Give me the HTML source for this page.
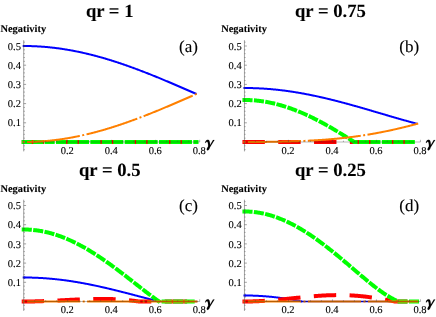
<!DOCTYPE html><html><head><meta charset="utf-8"><style>html,body{margin:0;padding:0;background:#fff}svg{display:block;filter:blur(0.4px)}text{font-family:"Liberation Serif",serif;fill:#000}</style></head><body>
<svg width="436" height="317" viewBox="0 0 436 317">
<defs><filter id="nf" x="0" y="0" width="436" height="317" filterUnits="userSpaceOnUse"><feOffset dx="0" dy="0"/></filter></defs>
<rect width="436" height="317" fill="#fff"/>
<g fill="none" stroke-linecap="square" stroke-linejoin="round">
<path d="M23.70 46.00 L24.28 46.00 L24.86 46.00 L25.43 46.01 L26.01 46.01 L26.59 46.02 L27.17 46.02 L27.75 46.03 L28.32 46.04 L28.90 46.05 L29.48 46.07 L30.06 46.08 L30.63 46.10 L31.21 46.11 L31.79 46.13 L32.37 46.15 L32.95 46.17 L33.52 46.19 L34.10 46.21 L34.68 46.24 L35.26 46.26 L35.84 46.29 L36.41 46.32 L36.99 46.35 L37.57 46.38 L38.15 46.41 L38.73 46.45 L39.30 46.48 L39.88 46.52 L40.46 46.56 L41.04 46.59 L41.61 46.64 L42.19 46.68 L42.77 46.72 L43.35 46.76 L43.93 46.81 L44.50 46.86 L45.08 46.90 L45.66 46.95 L46.24 47.00 L46.82 47.06 L47.39 47.11 L47.97 47.16 L48.55 47.22 L49.13 47.28 L49.70 47.34 L50.28 47.39 L50.86 47.46 L51.44 47.52 L52.02 47.58 L52.59 47.65 L53.17 47.71 L53.75 47.78 L54.33 47.85 L54.91 47.92 L55.48 47.99 L56.06 48.06 L56.64 48.14 L57.22 48.21 L57.80 48.29 L58.37 48.36 L58.95 48.44 L59.53 48.52 L60.11 48.61 L60.68 48.69 L61.26 48.77 L61.84 48.86 L62.42 48.94 L63.00 49.03 L63.57 49.12 L64.15 49.21 L64.73 49.30 L65.31 49.39 L65.89 49.49 L66.46 49.58 L67.04 49.68 L67.62 49.78 L68.20 49.87 L68.78 49.97 L69.35 50.07 L69.93 50.18 L70.51 50.28 L71.09 50.39 L71.66 50.49 L72.24 50.60 L72.82 50.71 L73.40 50.82 L73.98 50.93 L74.55 51.04 L75.13 51.15 L75.71 51.27 L76.29 51.38 L76.87 51.50 L77.44 51.62 L78.02 51.73 L78.60 51.85 L79.18 51.98 L79.75 52.10 L80.33 52.22 L80.91 52.35 L81.49 52.47 L82.07 52.60 L82.64 52.73 L83.22 52.86 L83.80 52.99 L84.38 53.12 L84.96 53.25 L85.53 53.39 L86.11 53.52 L86.69 53.66 L87.27 53.79 L87.85 53.93 L88.42 54.07 L89.00 54.21 L89.58 54.35 L90.16 54.50 L90.73 54.64 L91.31 54.79 L91.89 54.93 L92.47 55.08 L93.05 55.23 L93.62 55.38 L94.20 55.53 L94.78 55.68 L95.36 55.83 L95.94 55.98 L96.51 56.14 L97.09 56.29 L97.67 56.45 L98.25 56.61 L98.83 56.77 L99.40 56.93 L99.98 57.09 L100.56 57.25 L101.14 57.41 L101.71 57.57 L102.29 57.74 L102.87 57.90 L103.45 58.07 L104.03 58.24 L104.60 58.41 L105.18 58.58 L105.76 58.75 L106.34 58.92 L106.92 59.09 L107.49 59.27 L108.07 59.44 L108.65 59.62 L109.23 59.79 L109.80 59.97 L110.38 60.15 L110.96 60.33 L111.54 60.51 L112.12 60.69 L112.69 60.87 L113.27 61.05 L113.85 61.24 L114.43 61.42 L115.01 61.61 L115.58 61.79 L116.16 61.98 L116.74 62.17 L117.32 62.36 L117.90 62.55 L118.47 62.74 L119.05 62.93 L119.63 63.12 L120.21 63.32 L120.78 63.51 L121.36 63.71 L121.94 63.90 L122.52 64.10 L123.10 64.30 L123.67 64.50 L124.25 64.70 L124.83 64.90 L125.41 65.10 L125.99 65.30 L126.56 65.50 L127.14 65.70 L127.72 65.91 L128.30 66.11 L128.88 66.32 L129.45 66.53 L130.03 66.73 L130.61 66.94 L131.19 67.15 L131.76 67.36 L132.34 67.57 L132.92 67.78 L133.50 67.99 L134.08 68.20 L134.65 68.42 L135.23 68.63 L135.81 68.84 L136.39 69.06 L136.97 69.28 L137.54 69.49 L138.12 69.71 L138.70 69.93 L139.28 70.15 L139.85 70.36 L140.43 70.58 L141.01 70.81 L141.59 71.03 L142.17 71.25 L142.74 71.47 L143.32 71.69 L143.90 71.92 L144.48 72.14 L145.06 72.37 L145.63 72.59 L146.21 72.82 L146.79 73.04 L147.37 73.27 L147.95 73.50 L148.52 73.73 L149.10 73.96 L149.68 74.19 L150.26 74.42 L150.83 74.65 L151.41 74.88 L151.99 75.11 L152.57 75.34 L153.15 75.57 L153.72 75.81 L154.30 76.04 L154.88 76.27 L155.46 76.51 L156.04 76.74 L156.61 76.98 L157.19 77.21 L157.77 77.45 L158.35 77.69 L158.93 77.93 L159.50 78.16 L160.08 78.40 L160.66 78.64 L161.24 78.88 L161.81 79.12 L162.39 79.36 L162.97 79.60 L163.55 79.84 L164.13 80.08 L164.70 80.32 L165.28 80.56 L165.86 80.81 L166.44 81.05 L167.02 81.29 L167.59 81.54 L168.17 81.78 L168.75 82.02 L169.33 82.27 L169.90 82.51 L170.48 82.76 L171.06 83.00 L171.64 83.25 L172.22 83.49 L172.79 83.74 L173.37 83.99 L173.95 84.23 L174.53 84.48 L175.11 84.73 L175.68 84.98 L176.26 85.22 L176.84 85.47 L177.42 85.72 L178.00 85.97 L178.57 86.22 L179.15 86.47 L179.73 86.72 L180.31 86.96 L180.88 87.21 L181.46 87.46 L182.04 87.71 L182.62 87.96 L183.20 88.21 L183.77 88.46 L184.35 88.72 L184.93 88.97 L185.51 89.22 L186.09 89.47 L186.66 89.72 L187.24 89.97 L187.82 90.22 L188.40 90.47 L188.98 90.72 L189.55 90.98 L190.13 91.23 L190.71 91.48 L191.29 91.73 L191.86 91.98 L192.44 92.24 L193.02 92.49 L193.60 92.74 L194.18 92.99 L194.75 93.24 L195.33 93.50 L195.91 93.75 L196.49 94.00" stroke="#0000ff" stroke-width="2" stroke-linecap="butt"/>
<path d="M23.70 46.00 L24.28 46.00" stroke="#0000ff" stroke-width="2"/>
<path d="M23.70 142.00 L24.28 142.00 L24.86 142.00 L25.43 142.00 L26.01 142.00 L26.59 142.00 L27.17 142.00 L27.75 142.00 L28.32 142.00 L28.90 142.00 L29.48 142.00 L30.06 142.00 L30.63 142.00 L31.21 142.00 L31.79 142.00 L32.37 142.00 L32.95 142.00 L33.52 142.00 L34.10 142.00 L34.68 142.00 L35.26 142.00 L35.84 142.00 L36.41 142.00 L36.99 142.00 L37.57 142.00 L38.15 142.00 L38.73 142.00 L39.30 142.00 L39.88 142.00 L40.46 142.00 L41.04 142.00 L41.61 142.00 L42.19 142.00 L42.77 142.00 L43.35 142.00 L43.93 142.00 L44.50 142.00 L45.08 142.00 L45.66 142.00 L46.24 142.00 L46.82 142.00 L47.39 142.00 L47.97 142.00 L48.55 142.00 L49.13 142.00 L49.70 142.00 L50.28 142.00 L50.86 142.00 L51.44 142.00 L52.02 142.00 L52.59 142.00 L53.17 142.00 L53.75 142.00 L54.33 142.00 L54.91 142.00 L55.48 142.00 L56.06 142.00 L56.64 142.00 L57.22 142.00 L57.80 142.00 L58.37 142.00 L58.95 142.00 L59.53 142.00 L60.11 142.00 L60.68 142.00 L61.26 142.00 L61.84 142.00 L62.42 142.00 L63.00 142.00 L63.57 142.00 L64.15 142.00 L64.73 142.00 L65.31 142.00 L65.89 142.00 L66.46 142.00 L67.04 142.00 L67.62 142.00 L68.20 142.00 L68.78 142.00 L69.35 142.00 L69.93 142.00 L70.51 142.00 L71.09 142.00 L71.66 142.00 L72.24 142.00 L72.82 142.00 L73.40 142.00 L73.98 142.00 L74.55 142.00 L75.13 142.00 L75.71 142.00 L76.29 142.00 L76.87 142.00 L77.44 142.00 L78.02 142.00 L78.60 142.00 L79.18 142.00 L79.75 142.00 L80.33 142.00 L80.91 142.00 L81.49 142.00 L82.07 142.00 L82.64 142.00 L83.22 142.00 L83.80 142.00 L84.38 142.00 L84.96 142.00 L85.53 142.00 L86.11 142.00 L86.69 142.00 L87.27 142.00 L87.85 142.00 L88.42 142.00 L89.00 142.00 L89.58 142.00 L90.16 142.00 L90.73 142.00 L91.31 142.00 L91.89 142.00 L92.47 142.00 L93.05 142.00 L93.62 142.00 L94.20 142.00 L94.78 142.00 L95.36 142.00 L95.94 142.00 L96.51 142.00 L97.09 142.00 L97.67 142.00 L98.25 142.00 L98.83 142.00 L99.40 142.00 L99.98 142.00 L100.56 142.00 L101.14 142.00 L101.71 142.00 L102.29 142.00 L102.87 142.00 L103.45 142.00 L104.03 142.00 L104.60 142.00 L105.18 142.00 L105.76 142.00 L106.34 142.00 L106.92 142.00 L107.49 142.00 L108.07 142.00 L108.65 142.00 L109.23 142.00 L109.80 142.00 L110.38 142.00 L110.96 142.00 L111.54 142.00 L112.12 142.00 L112.69 142.00 L113.27 142.00 L113.85 142.00 L114.43 142.00 L115.01 142.00 L115.58 142.00 L116.16 142.00 L116.74 142.00 L117.32 142.00 L117.90 142.00 L118.47 142.00 L119.05 142.00 L119.63 142.00 L120.21 142.00 L120.78 142.00 L121.36 142.00 L121.94 142.00 L122.52 142.00 L123.10 142.00 L123.67 142.00 L124.25 142.00 L124.83 142.00 L125.41 142.00 L125.99 142.00 L126.56 142.00 L127.14 142.00 L127.72 142.00 L128.30 142.00 L128.88 142.00 L129.45 142.00 L130.03 142.00 L130.61 142.00 L131.19 142.00 L131.76 142.00 L132.34 142.00 L132.92 142.00 L133.50 142.00 L134.08 142.00 L134.65 142.00 L135.23 142.00 L135.81 142.00 L136.39 142.00 L136.97 142.00 L137.54 142.00 L138.12 142.00 L138.70 142.00 L139.28 142.00 L139.85 142.00 L140.43 142.00 L141.01 142.00 L141.59 142.00 L142.17 142.00 L142.74 142.00 L143.32 142.00 L143.90 142.00 L144.48 142.00 L145.06 142.00 L145.63 142.00 L146.21 142.00 L146.79 142.00 L147.37 142.00 L147.95 142.00 L148.52 142.00 L149.10 142.00 L149.68 142.00 L150.26 142.00 L150.83 142.00 L151.41 142.00 L151.99 142.00 L152.57 142.00 L153.15 142.00 L153.72 142.00 L154.30 142.00 L154.88 142.00 L155.46 142.00 L156.04 142.00 L156.61 142.00 L157.19 142.00 L157.77 142.00 L158.35 142.00 L158.93 142.00 L159.50 142.00 L160.08 142.00 L160.66 142.00 L161.24 142.00 L161.81 142.00 L162.39 142.00 L162.97 142.00 L163.55 142.00 L164.13 142.00 L164.70 142.00 L165.28 142.00 L165.86 142.00 L166.44 142.00 L167.02 142.00 L167.59 142.00 L168.17 142.00 L168.75 142.00 L169.33 142.00 L169.90 142.00 L170.48 142.00 L171.06 142.00 L171.64 142.00 L172.22 142.00 L172.79 142.00 L173.37 142.00 L173.95 142.00 L174.53 142.00 L175.11 142.00 L175.68 142.00 L176.26 142.00 L176.84 142.00 L177.42 142.00 L178.00 142.00 L178.57 142.00 L179.15 142.00 L179.73 142.00 L180.31 142.00 L180.88 142.00 L181.46 142.00 L182.04 142.00 L182.62 142.00 L183.20 142.00 L183.77 142.00 L184.35 142.00 L184.93 142.00 L185.51 142.00 L186.09 142.00 L186.66 142.00 L187.24 142.00 L187.82 142.00 L188.40 142.00 L188.98 142.00 L189.55 142.00 L190.13 142.00 L190.71 142.00 L191.29 142.00 L191.86 142.00 L192.44 142.00 L193.02 142.00 L193.60 142.00 L194.18 142.00 L194.75 142.00 L195.33 142.00 L195.91 142.00 L196.49 142.00" stroke="#ff0000" stroke-width="4" stroke-dasharray="18.4 17.4"/>
<path d="M23.70 142.00 L24.28 142.00 L24.86 142.00 L25.43 142.00 L26.01 142.00 L26.59 142.00 L27.17 142.00 L27.75 142.00 L28.32 142.00 L28.90 142.00 L29.48 142.00 L30.06 142.00 L30.63 142.00 L31.21 142.00 L31.79 142.00 L32.37 142.00 L32.95 142.00 L33.52 142.00 L34.10 142.00 L34.68 142.00 L35.26 142.00 L35.84 142.00 L36.41 142.00 L36.99 142.00 L37.57 142.00 L38.15 142.00 L38.73 142.00 L39.30 142.00 L39.88 142.00 L40.46 142.00 L41.04 142.00 L41.61 142.00 L42.19 142.00 L42.77 142.00 L43.35 142.00 L43.93 142.00 L44.50 142.00 L45.08 142.00 L45.66 142.00 L46.24 142.00 L46.82 142.00 L47.39 142.00 L47.97 142.00 L48.55 142.00 L49.13 142.00 L49.70 142.00 L50.28 142.00 L50.86 142.00 L51.44 142.00 L52.02 142.00 L52.59 142.00 L53.17 142.00 L53.75 142.00 L54.33 142.00 L54.91 142.00 L55.48 142.00 L56.06 142.00 L56.64 142.00 L57.22 142.00 L57.80 142.00 L58.37 142.00 L58.95 142.00 L59.53 142.00 L60.11 142.00 L60.68 142.00 L61.26 142.00 L61.84 142.00 L62.42 142.00 L63.00 142.00 L63.57 142.00 L64.15 142.00 L64.73 142.00 L65.31 142.00 L65.89 142.00 L66.46 142.00 L67.04 142.00 L67.62 142.00 L68.20 142.00 L68.78 142.00 L69.35 142.00 L69.93 142.00 L70.51 142.00 L71.09 142.00 L71.66 142.00 L72.24 142.00 L72.82 142.00 L73.40 142.00 L73.98 142.00 L74.55 142.00 L75.13 142.00 L75.71 142.00 L76.29 142.00 L76.87 142.00 L77.44 142.00 L78.02 142.00 L78.60 142.00 L79.18 142.00 L79.75 142.00 L80.33 142.00 L80.91 142.00 L81.49 142.00 L82.07 142.00 L82.64 142.00 L83.22 142.00 L83.80 142.00 L84.38 142.00 L84.96 142.00 L85.53 142.00 L86.11 142.00 L86.69 142.00 L87.27 142.00 L87.85 142.00 L88.42 142.00 L89.00 142.00 L89.58 142.00 L90.16 142.00 L90.73 142.00 L91.31 142.00 L91.89 142.00 L92.47 142.00 L93.05 142.00 L93.62 142.00 L94.20 142.00 L94.78 142.00 L95.36 142.00 L95.94 142.00 L96.51 142.00 L97.09 142.00 L97.67 142.00 L98.25 142.00 L98.83 142.00 L99.40 142.00 L99.98 142.00 L100.56 142.00 L101.14 142.00 L101.71 142.00 L102.29 142.00 L102.87 142.00 L103.45 142.00 L104.03 142.00 L104.60 142.00 L105.18 142.00 L105.76 142.00 L106.34 142.00 L106.92 142.00 L107.49 142.00 L108.07 142.00 L108.65 142.00 L109.23 142.00 L109.80 142.00 L110.38 142.00 L110.96 142.00 L111.54 142.00 L112.12 142.00 L112.69 142.00 L113.27 142.00 L113.85 142.00 L114.43 142.00 L115.01 142.00 L115.58 142.00 L116.16 142.00 L116.74 142.00 L117.32 142.00 L117.90 142.00 L118.47 142.00 L119.05 142.00 L119.63 142.00 L120.21 142.00 L120.78 142.00 L121.36 142.00 L121.94 142.00 L122.52 142.00 L123.10 142.00 L123.67 142.00 L124.25 142.00 L124.83 142.00 L125.41 142.00 L125.99 142.00 L126.56 142.00 L127.14 142.00 L127.72 142.00 L128.30 142.00 L128.88 142.00 L129.45 142.00 L130.03 142.00 L130.61 142.00 L131.19 142.00 L131.76 142.00 L132.34 142.00 L132.92 142.00 L133.50 142.00 L134.08 142.00 L134.65 142.00 L135.23 142.00 L135.81 142.00 L136.39 142.00 L136.97 142.00 L137.54 142.00 L138.12 142.00 L138.70 142.00 L139.28 142.00 L139.85 142.00 L140.43 142.00 L141.01 142.00 L141.59 142.00 L142.17 142.00 L142.74 142.00 L143.32 142.00 L143.90 142.00 L144.48 142.00 L145.06 142.00 L145.63 142.00 L146.21 142.00 L146.79 142.00 L147.37 142.00 L147.95 142.00 L148.52 142.00 L149.10 142.00 L149.68 142.00 L150.26 142.00 L150.83 142.00 L151.41 142.00 L151.99 142.00 L152.57 142.00 L153.15 142.00 L153.72 142.00 L154.30 142.00 L154.88 142.00 L155.46 142.00 L156.04 142.00 L156.61 142.00 L157.19 142.00 L157.77 142.00 L158.35 142.00 L158.93 142.00 L159.50 142.00 L160.08 142.00 L160.66 142.00 L161.24 142.00 L161.81 142.00 L162.39 142.00 L162.97 142.00 L163.55 142.00 L164.13 142.00 L164.70 142.00 L165.28 142.00 L165.86 142.00 L166.44 142.00 L167.02 142.00 L167.59 142.00 L168.17 142.00 L168.75 142.00 L169.33 142.00 L169.90 142.00 L170.48 142.00 L171.06 142.00 L171.64 142.00 L172.22 142.00 L172.79 142.00 L173.37 142.00 L173.95 142.00 L174.53 142.00 L175.11 142.00 L175.68 142.00 L176.26 142.00 L176.84 142.00 L177.42 142.00 L178.00 142.00 L178.57 142.00 L179.15 142.00 L179.73 142.00 L180.31 142.00 L180.88 142.00 L181.46 142.00 L182.04 142.00 L182.62 142.00 L183.20 142.00 L183.77 142.00 L184.35 142.00 L184.93 142.00 L185.51 142.00 L186.09 142.00 L186.66 142.00 L187.24 142.00 L187.82 142.00 L188.40 142.00 L188.98 142.00 L189.55 142.00 L190.13 142.00 L190.71 142.00 L191.29 142.00 L191.86 142.00 L192.44 142.00 L193.02 142.00 L193.60 142.00 L194.18 142.00 L194.75 142.00 L195.33 142.00 L195.91 142.00 L196.49 142.00" stroke="#00ff00" stroke-width="4" stroke-dasharray="6.115 5.325"/>
<path d="M23.70 142.00 L24.28 142.00 L24.86 142.00 L25.43 141.99 L26.01 141.99 L26.59 141.98 L27.17 141.98 L27.75 141.97 L28.32 141.96 L28.90 141.95 L29.48 141.93 L30.06 141.92 L30.63 141.90 L31.21 141.89 L31.79 141.87 L32.37 141.85 L32.95 141.83 L33.52 141.81 L34.10 141.79 L34.68 141.76 L35.26 141.74 L35.84 141.71 L36.41 141.68 L36.99 141.65 L37.57 141.62 L38.15 141.59 L38.73 141.55 L39.30 141.52 L39.88 141.48 L40.46 141.44 L41.04 141.41 L41.61 141.36 L42.19 141.32 L42.77 141.28 L43.35 141.24 L43.93 141.19 L44.50 141.14 L45.08 141.10 L45.66 141.05 L46.24 141.00 L46.82 140.94 L47.39 140.89 L47.97 140.84 L48.55 140.78 L49.13 140.72 L49.70 140.66 L50.28 140.61 L50.86 140.54 L51.44 140.48 L52.02 140.42 L52.59 140.35 L53.17 140.29 L53.75 140.22 L54.33 140.15 L54.91 140.08 L55.48 140.01 L56.06 139.94 L56.64 139.86 L57.22 139.79 L57.80 139.71 L58.37 139.64 L58.95 139.56 L59.53 139.48 L60.11 139.39 L60.68 139.31 L61.26 139.23 L61.84 139.14 L62.42 139.06 L63.00 138.97 L63.57 138.88 L64.15 138.79 L64.73 138.70 L65.31 138.61 L65.89 138.51 L66.46 138.42 L67.04 138.32 L67.62 138.22 L68.20 138.13 L68.78 138.03 L69.35 137.93 L69.93 137.82 L70.51 137.72 L71.09 137.61 L71.66 137.51 L72.24 137.40 L72.82 137.29 L73.40 137.18 L73.98 137.07 L74.55 136.96 L75.13 136.85 L75.71 136.73 L76.29 136.62 L76.87 136.50 L77.44 136.38 L78.02 136.27 L78.60 136.15 L79.18 136.02 L79.75 135.90 L80.33 135.78 L80.91 135.65 L81.49 135.53 L82.07 135.40 L82.64 135.27 L83.22 135.14 L83.80 135.01 L84.38 134.88 L84.96 134.75 L85.53 134.61 L86.11 134.48 L86.69 134.34 L87.27 134.21 L87.85 134.07 L88.42 133.93 L89.00 133.79 L89.58 133.65 L90.16 133.50 L90.73 133.36 L91.31 133.21 L91.89 133.07 L92.47 132.92 L93.05 132.77 L93.62 132.62 L94.20 132.47 L94.78 132.32 L95.36 132.17 L95.94 132.02 L96.51 131.86 L97.09 131.71 L97.67 131.55 L98.25 131.39 L98.83 131.23 L99.40 131.07 L99.98 130.91 L100.56 130.75 L101.14 130.59 L101.71 130.43 L102.29 130.26 L102.87 130.10 L103.45 129.93 L104.03 129.76 L104.60 129.59 L105.18 129.42 L105.76 129.25 L106.34 129.08 L106.92 128.91 L107.49 128.73 L108.07 128.56 L108.65 128.38 L109.23 128.21 L109.80 128.03 L110.38 127.85 L110.96 127.67 L111.54 127.49 L112.12 127.31 L112.69 127.13 L113.27 126.95 L113.85 126.76 L114.43 126.58 L115.01 126.39 L115.58 126.21 L116.16 126.02 L116.74 125.83 L117.32 125.64 L117.90 125.45 L118.47 125.26 L119.05 125.07 L119.63 124.88 L120.21 124.68 L120.78 124.49 L121.36 124.29 L121.94 124.10 L122.52 123.90 L123.10 123.70 L123.67 123.50 L124.25 123.30 L124.83 123.10 L125.41 122.90 L125.99 122.70 L126.56 122.50 L127.14 122.30 L127.72 122.09 L128.30 121.89 L128.88 121.68 L129.45 121.47 L130.03 121.27 L130.61 121.06 L131.19 120.85 L131.76 120.64 L132.34 120.43 L132.92 120.22 L133.50 120.01 L134.08 119.80 L134.65 119.58 L135.23 119.37 L135.81 119.16 L136.39 118.94 L136.97 118.72 L137.54 118.51 L138.12 118.29 L138.70 118.07 L139.28 117.85 L139.85 117.64 L140.43 117.42 L141.01 117.19 L141.59 116.97 L142.17 116.75 L142.74 116.53 L143.32 116.31 L143.90 116.08 L144.48 115.86 L145.06 115.63 L145.63 115.41 L146.21 115.18 L146.79 114.96 L147.37 114.73 L147.95 114.50 L148.52 114.27 L149.10 114.04 L149.68 113.81 L150.26 113.58 L150.83 113.35 L151.41 113.12 L151.99 112.89 L152.57 112.66 L153.15 112.43 L153.72 112.19 L154.30 111.96 L154.88 111.73 L155.46 111.49 L156.04 111.26 L156.61 111.02 L157.19 110.79 L157.77 110.55 L158.35 110.31 L158.93 110.07 L159.50 109.84 L160.08 109.60 L160.66 109.36 L161.24 109.12 L161.81 108.88 L162.39 108.64 L162.97 108.40 L163.55 108.16 L164.13 107.92 L164.70 107.68 L165.28 107.44 L165.86 107.19 L166.44 106.95 L167.02 106.71 L167.59 106.46 L168.17 106.22 L168.75 105.98 L169.33 105.73 L169.90 105.49 L170.48 105.24 L171.06 105.00 L171.64 104.75 L172.22 104.51 L172.79 104.26 L173.37 104.01 L173.95 103.77 L174.53 103.52 L175.11 103.27 L175.68 103.02 L176.26 102.78 L176.84 102.53 L177.42 102.28 L178.00 102.03 L178.57 101.78 L179.15 101.53 L179.73 101.28 L180.31 101.04 L180.88 100.79 L181.46 100.54 L182.04 100.29 L182.62 100.04 L183.20 99.79 L183.77 99.54 L184.35 99.28 L184.93 99.03 L185.51 98.78 L186.09 98.53 L186.66 98.28 L187.24 98.03 L187.82 97.78 L188.40 97.53 L188.98 97.28 L189.55 97.02 L190.13 96.77 L190.71 96.52 L191.29 96.27 L191.86 96.02 L192.44 95.76 L193.02 95.51 L193.60 95.26 L194.18 95.01 L194.75 94.76 L195.33 94.50 L195.91 94.25 L196.49 94.00" stroke="#ff8000" stroke-width="2" stroke-dasharray="0.01 4.4 51.19 4.4"/>
</g>
<g stroke="#444" stroke-width="0.5" fill="none">
<path d="M23.70 40.20V151.40"/>
<path d="M23.70 142.00H199.70" stroke="#000" stroke-width="0.5" opacity="0.55"/>
<path d="M23.70 149.68h1.1M23.70 145.84h1.1M23.70 138.16h1.1M23.70 134.32h1.1M23.70 130.48h1.1M23.70 126.64h1.1M23.70 122.80h2.4M23.70 118.96h1.1M23.70 115.12h1.1M23.70 111.28h1.1M23.70 107.44h1.1M23.70 103.60h2.4M23.70 99.76h1.1M23.70 95.92h1.1M23.70 92.08h1.1M23.70 88.24h1.1M23.70 84.40h2.4M23.70 80.56h1.1M23.70 76.72h1.1M23.70 72.88h1.1M23.70 69.04h1.1M23.70 65.20h2.4M23.70 61.36h1.1M23.70 57.52h1.1M23.70 53.68h1.1M23.70 49.84h1.1M23.70 46.00h2.4M23.70 42.16h1.1" stroke-width="0.5"/>
<path d="M34.70 142.00v-1.3M45.70 142.00v-1.3M56.70 142.00v-1.3M67.70 142.00v-2.2M78.70 142.00v-1.3M89.70 142.00v-1.3M100.70 142.00v-1.3M111.70 142.00v-2.2M122.70 142.00v-1.3M133.70 142.00v-1.3M144.70 142.00v-1.3M155.70 142.00v-2.2M166.70 142.00v-1.3M177.70 142.00v-1.3M188.70 142.00v-1.3M199.70 142.00v-2.2" stroke-width="0.5" opacity="0.8"/>
</g>
<g style="text-rendering:geometricPrecision" filter="url(#nf)" stroke="#000" stroke-width="0.12">
<text x="20.90" y="126.40" font-size="10.5" text-anchor="end">0.1</text>
<text x="20.90" y="107.20" font-size="10.5" text-anchor="end">0.2</text>
<text x="20.90" y="88.00" font-size="10.5" text-anchor="end">0.3</text>
<text x="20.90" y="68.80" font-size="10.5" text-anchor="end">0.4</text>
<text x="20.90" y="49.60" font-size="10.5" text-anchor="end">0.5</text>
<text x="67.30" y="153.60" font-size="10.5" text-anchor="middle">0.2</text>
<text x="111.30" y="153.60" font-size="10.5" text-anchor="middle">0.4</text>
<text x="155.30" y="153.60" font-size="10.5" text-anchor="middle">0.6</text>
<text x="199.30" y="153.60" font-size="10.5" text-anchor="middle">0.8</text>
<text x="0.50" y="32.35" font-size="10.4" font-weight="bold">Negativity</text>
<text x="109.70" y="16.80" font-size="18.65" font-weight="bold" text-anchor="middle">qr = 1</text>
<text x="188.45" y="51.70" font-size="17" text-anchor="middle">(a)</text>
<path transform="translate(0.00 0.00)" fill="#000" d="M205.1 142.8C205.4 141 206.5 139.8 207.9 139.8C209.4 139.8 209.9 141.2 210.1 145L213 139.9L214.5 139.9L210 147.2C209.6 148.4 209 150.4 207.6 150.4C206.5 150.4 206.5 149 207.3 147.8L208.2 146.3C208.1 143.5 207.8 141.8 207 141.8C206.4 141.8 205.9 142.4 205.7 143.1Z"/>
</g>
<g fill="none" stroke-linecap="square" stroke-linejoin="round">
<path d="M244.45 88.00 L245.03 88.00 L245.61 88.00 L246.18 88.01 L246.76 88.01 L247.34 88.01 L247.92 88.02 L248.50 88.03 L249.07 88.04 L249.65 88.05 L250.23 88.06 L250.81 88.07 L251.38 88.08 L251.96 88.09 L252.54 88.11 L253.12 88.13 L253.70 88.14 L254.27 88.16 L254.85 88.18 L255.43 88.20 L256.01 88.22 L256.59 88.25 L257.16 88.27 L257.74 88.29 L258.32 88.32 L258.90 88.35 L259.48 88.38 L260.05 88.41 L260.63 88.44 L261.21 88.47 L261.79 88.50 L262.36 88.53 L262.94 88.57 L263.52 88.61 L264.10 88.64 L264.68 88.68 L265.25 88.72 L265.83 88.76 L266.41 88.80 L266.99 88.84 L267.57 88.89 L268.14 88.93 L268.72 88.98 L269.30 89.03 L269.88 89.07 L270.45 89.12 L271.03 89.17 L271.61 89.22 L272.19 89.28 L272.77 89.33 L273.34 89.38 L273.92 89.44 L274.50 89.50 L275.08 89.55 L275.66 89.61 L276.23 89.67 L276.81 89.73 L277.39 89.79 L277.97 89.86 L278.55 89.92 L279.12 89.98 L279.70 90.05 L280.28 90.12 L280.86 90.19 L281.43 90.25 L282.01 90.32 L282.59 90.40 L283.17 90.47 L283.75 90.54 L284.32 90.61 L284.90 90.69 L285.48 90.77 L286.06 90.84 L286.64 90.92 L287.21 91.00 L287.79 91.08 L288.37 91.16 L288.95 91.24 L289.53 91.33 L290.10 91.41 L290.68 91.50 L291.26 91.58 L291.84 91.67 L292.41 91.76 L292.99 91.84 L293.57 91.93 L294.15 92.03 L294.73 92.12 L295.30 92.21 L295.88 92.30 L296.46 92.40 L297.04 92.49 L297.62 92.59 L298.19 92.69 L298.77 92.79 L299.35 92.88 L299.93 92.98 L300.50 93.09 L301.08 93.19 L301.66 93.29 L302.24 93.39 L302.82 93.50 L303.39 93.60 L303.97 93.71 L304.55 93.82 L305.13 93.93 L305.71 94.04 L306.28 94.15 L306.86 94.26 L307.44 94.37 L308.02 94.48 L308.60 94.59 L309.17 94.71 L309.75 94.82 L310.33 94.94 L310.91 95.05 L311.48 95.17 L312.06 95.29 L312.64 95.41 L313.22 95.53 L313.80 95.65 L314.37 95.77 L314.95 95.89 L315.53 96.02 L316.11 96.14 L316.69 96.27 L317.26 96.39 L317.84 96.52 L318.42 96.64 L319.00 96.77 L319.58 96.90 L320.15 97.03 L320.73 97.16 L321.31 97.29 L321.89 97.42 L322.46 97.55 L323.04 97.69 L323.62 97.82 L324.20 97.96 L324.78 98.09 L325.35 98.23 L325.93 98.36 L326.51 98.50 L327.09 98.64 L327.67 98.78 L328.24 98.91 L328.82 99.05 L329.40 99.19 L329.98 99.34 L330.55 99.48 L331.13 99.62 L331.71 99.76 L332.29 99.91 L332.87 100.05 L333.44 100.19 L334.02 100.34 L334.60 100.49 L335.18 100.63 L335.76 100.78 L336.33 100.93 L336.91 101.08 L337.49 101.22 L338.07 101.37 L338.65 101.52 L339.22 101.67 L339.80 101.83 L340.38 101.98 L340.96 102.13 L341.53 102.28 L342.11 102.43 L342.69 102.59 L343.27 102.74 L343.85 102.90 L344.42 103.05 L345.00 103.21 L345.58 103.36 L346.16 103.52 L346.74 103.68 L347.31 103.83 L347.89 103.99 L348.47 104.15 L349.05 104.31 L349.63 104.47 L350.20 104.63 L350.78 104.79 L351.36 104.95 L351.94 105.11 L352.51 105.27 L353.09 105.43 L353.67 105.59 L354.25 105.75 L354.83 105.92 L355.40 106.08 L355.98 106.24 L356.56 106.41 L357.14 106.57 L357.72 106.73 L358.29 106.90 L358.87 107.06 L359.45 107.23 L360.03 107.39 L360.60 107.56 L361.18 107.73 L361.76 107.89 L362.34 108.06 L362.92 108.22 L363.49 108.39 L364.07 108.56 L364.65 108.73 L365.23 108.89 L365.81 109.06 L366.38 109.23 L366.96 109.40 L367.54 109.56 L368.12 109.73 L368.70 109.90 L369.27 110.07 L369.85 110.24 L370.43 110.41 L371.01 110.58 L371.58 110.75 L372.16 110.92 L372.74 111.09 L373.32 111.26 L373.90 111.42 L374.47 111.59 L375.05 111.76 L375.63 111.93 L376.21 112.10 L376.79 112.27 L377.36 112.44 L377.94 112.61 L378.52 112.78 L379.10 112.95 L379.68 113.13 L380.25 113.30 L380.83 113.47 L381.41 113.64 L381.99 113.81 L382.56 113.98 L383.14 114.15 L383.72 114.32 L384.30 114.49 L384.88 114.66 L385.45 114.83 L386.03 115.00 L386.61 115.17 L387.19 115.33 L387.77 115.50 L388.34 115.67 L388.92 115.84 L389.50 116.01 L390.08 116.18 L390.65 116.35 L391.23 116.52 L391.81 116.69 L392.39 116.86 L392.97 117.02 L393.54 117.19 L394.12 117.36 L394.70 117.53 L395.28 117.69 L395.86 117.86 L396.43 118.03 L397.01 118.20 L397.59 118.36 L398.17 118.53 L398.75 118.69 L399.32 118.86 L399.90 119.03 L400.48 119.19 L401.06 119.36 L401.63 119.52 L402.21 119.69 L402.79 119.85 L403.37 120.01 L403.95 120.18 L404.52 120.34 L405.10 120.50 L405.68 120.66 L406.26 120.83 L406.84 120.99 L407.41 121.15 L407.99 121.31 L408.57 121.47 L409.15 121.63 L409.73 121.79 L410.30 121.95 L410.88 122.11 L411.46 122.27 L412.04 122.43 L412.61 122.58 L413.19 122.74 L413.77 122.90 L414.35 123.05 L414.93 123.21 L415.50 123.37 L416.08 123.52 L416.66 123.67 L417.24 123.83" stroke="#0000ff" stroke-width="2" stroke-linecap="butt"/>
<path d="M244.45 88.00 L245.03 88.00" stroke="#0000ff" stroke-width="2"/>
<path d="M244.45 142.00 L245.03 142.00 L245.61 142.00 L246.18 142.00 L246.76 142.00 L247.34 142.00 L247.92 142.00 L248.50 142.00 L249.07 142.00 L249.65 142.00 L250.23 142.00 L250.81 142.00 L251.38 142.00 L251.96 142.00 L252.54 142.00 L253.12 142.00 L253.70 142.00 L254.27 142.00 L254.85 142.00 L255.43 142.00 L256.01 142.00 L256.59 142.00 L257.16 142.00 L257.74 142.00 L258.32 142.00 L258.90 142.00 L259.48 142.00 L260.05 142.00 L260.63 142.00 L261.21 142.00 L261.79 142.00 L262.36 142.00 L262.94 142.00 L263.52 142.00 L264.10 142.00 L264.68 142.00 L265.25 142.00 L265.83 142.00 L266.41 142.00 L266.99 142.00 L267.57 142.00 L268.14 142.00 L268.72 142.00 L269.30 142.00 L269.88 142.00 L270.45 142.00 L271.03 142.00 L271.61 142.00 L272.19 142.00 L272.77 142.00 L273.34 142.00 L273.92 142.00 L274.50 142.00 L275.08 142.00 L275.66 142.00 L276.23 142.00 L276.81 142.00 L277.39 142.00 L277.97 142.00 L278.55 142.00 L279.12 142.00 L279.70 142.00 L280.28 142.00 L280.86 142.00 L281.43 142.00 L282.01 142.00 L282.59 142.00 L283.17 142.00 L283.75 142.00 L284.32 142.00 L284.90 142.00 L285.48 142.00 L286.06 142.00 L286.64 142.00 L287.21 142.00 L287.79 142.00 L288.37 142.00 L288.95 142.00 L289.53 142.00 L290.10 142.00 L290.68 142.00 L291.26 142.00 L291.84 142.00 L292.41 142.00 L292.99 142.00 L293.57 142.00 L294.15 142.00 L294.73 142.00 L295.30 142.00 L295.88 142.00 L296.46 142.00 L297.04 142.00 L297.62 142.00 L298.19 142.00 L298.77 142.00 L299.35 142.00 L299.93 142.00 L300.50 142.00 L301.08 142.00 L301.66 142.00 L302.24 142.00 L302.82 142.00 L303.39 142.00 L303.97 142.00 L304.55 142.00 L305.13 142.00 L305.71 142.00 L306.28 142.00 L306.86 142.00 L307.44 142.00 L308.02 142.00 L308.60 142.00 L309.17 142.00 L309.75 142.00 L310.33 142.00 L310.91 142.00 L311.48 142.00 L312.06 142.00 L312.64 142.00 L313.22 142.00 L313.80 142.00 L314.37 142.00 L314.95 142.00 L315.53 142.00 L316.11 142.00 L316.69 142.00 L317.26 142.00 L317.84 142.00 L318.42 142.00 L319.00 142.00 L319.58 142.00 L320.15 142.00 L320.73 142.00 L321.31 142.00 L321.89 142.00 L322.46 142.00 L323.04 142.00 L323.62 142.00 L324.20 142.00 L324.78 142.00 L325.35 142.00 L325.93 142.00 L326.51 142.00 L327.09 142.00 L327.67 142.00 L328.24 142.00 L328.82 142.00 L329.40 142.00 L329.98 142.00 L330.55 142.00 L331.13 142.00 L331.71 142.00 L332.29 142.00 L332.87 142.00 L333.44 142.00 L334.02 142.00 L334.60 142.00 L335.18 142.00 L335.76 142.00 L336.33 142.00 L336.91 142.00 L337.49 142.00 L338.07 142.00 L338.65 142.00 L339.22 142.00 L339.80 142.00 L340.38 142.00 L340.96 142.00 L341.53 142.00 L342.11 142.00 L342.69 142.00 L343.27 142.00 L343.85 142.00 L344.42 142.00 L345.00 142.00 L345.58 142.00 L346.16 142.00 L346.74 142.00 L347.31 142.00 L347.89 142.00 L348.47 142.00 L349.05 142.00 L349.63 142.00 L350.20 142.00 L350.78 142.00 L351.36 142.00 L351.94 142.00 L352.51 142.00 L353.09 142.00 L353.67 142.00 L354.25 142.00 L354.83 142.00 L355.40 142.00 L355.98 142.00 L356.56 142.00 L357.14 142.00 L357.72 142.00 L358.29 142.00 L358.87 142.00 L359.45 142.00 L360.03 142.00 L360.60 142.00 L361.18 142.00 L361.76 142.00 L362.34 142.00 L362.92 142.00 L363.49 142.00 L364.07 142.00 L364.65 142.00 L365.23 142.00 L365.81 142.00 L366.38 142.00 L366.96 142.00 L367.54 142.00 L368.12 142.00 L368.70 142.00 L369.27 142.00 L369.85 142.00 L370.43 142.00 L371.01 142.00 L371.58 142.00 L372.16 142.00 L372.74 142.00 L373.32 142.00 L373.90 142.00 L374.47 142.00 L375.05 142.00 L375.63 142.00 L376.21 142.00 L376.79 142.00 L377.36 142.00 L377.94 142.00 L378.52 142.00 L379.10 142.00 L379.68 142.00 L380.25 142.00 L380.83 142.00 L381.41 142.00 L381.99 142.00 L382.56 142.00 L383.14 142.00 L383.72 142.00 L384.30 142.00 L384.88 142.00 L385.45 142.00 L386.03 142.00 L386.61 142.00 L387.19 142.00 L387.77 142.00 L388.34 142.00 L388.92 142.00 L389.50 142.00 L390.08 142.00 L390.65 142.00 L391.23 142.00 L391.81 142.00 L392.39 142.00 L392.97 142.00 L393.54 142.00 L394.12 142.00 L394.70 142.00 L395.28 142.00 L395.86 142.00 L396.43 142.00 L397.01 142.00 L397.59 142.00 L398.17 142.00 L398.75 142.00 L399.32 142.00 L399.90 142.00 L400.48 142.00 L401.06 142.00 L401.63 142.00 L402.21 142.00 L402.79 142.00 L403.37 142.00 L403.95 142.00 L404.52 142.00 L405.10 142.00 L405.68 142.00 L406.26 142.00 L406.84 142.00 L407.41 142.00 L407.99 142.00 L408.57 142.00 L409.15 142.00 L409.73 142.00 L410.30 142.00 L410.88 142.00 L411.46 142.00 L412.04 142.00 L412.61 142.00 L413.19 142.00 L413.77 142.00 L414.35 142.00 L414.93 142.00 L415.50 142.00 L416.08 142.00 L416.66 142.00 L417.24 142.00" stroke="#ff0000" stroke-width="4" stroke-dasharray="18.4 17.4"/>
<path d="M244.45 100.00 L245.03 100.00 L245.61 100.01 L246.18 100.01 L246.76 100.02 L247.34 100.03 L247.92 100.05 L248.50 100.07 L249.07 100.09 L249.65 100.11 L250.23 100.14 L250.81 100.16 L251.38 100.20 L251.96 100.23 L252.54 100.27 L253.12 100.30 L253.70 100.35 L254.27 100.39 L254.85 100.44 L255.43 100.49 L256.01 100.54 L256.59 100.60 L257.16 100.65 L257.74 100.72 L258.32 100.78 L258.90 100.84 L259.48 100.91 L260.05 100.99 L260.63 101.06 L261.21 101.14 L261.79 101.22 L262.36 101.30 L262.94 101.38 L263.52 101.47 L264.10 101.56 L264.68 101.65 L265.25 101.75 L265.83 101.85 L266.41 101.95 L266.99 102.05 L267.57 102.15 L268.14 102.26 L268.72 102.37 L269.30 102.49 L269.88 102.60 L270.45 102.72 L271.03 102.84 L271.61 102.97 L272.19 103.09 L272.77 103.22 L273.34 103.35 L273.92 103.49 L274.50 103.62 L275.08 103.76 L275.66 103.91 L276.23 104.05 L276.81 104.20 L277.39 104.35 L277.97 104.50 L278.55 104.65 L279.12 104.81 L279.70 104.97 L280.28 105.13 L280.86 105.29 L281.43 105.46 L282.01 105.63 L282.59 105.80 L283.17 105.97 L283.75 106.15 L284.32 106.33 L284.90 106.51 L285.48 106.69 L286.06 106.88 L286.64 107.07 L287.21 107.26 L287.79 107.45 L288.37 107.64 L288.95 107.84 L289.53 108.04 L290.10 108.24 L290.68 108.45 L291.26 108.66 L291.84 108.86 L292.41 109.08 L292.99 109.29 L293.57 109.51 L294.15 109.72 L294.73 109.94 L295.30 110.17 L295.88 110.39 L296.46 110.62 L297.04 110.85 L297.62 111.08 L298.19 111.31 L298.77 111.55 L299.35 111.79 L299.93 112.03 L300.50 112.27 L301.08 112.51 L301.66 112.76 L302.24 113.01 L302.82 113.26 L303.39 113.51 L303.97 113.76 L304.55 114.02 L305.13 114.28 L305.71 114.54 L306.28 114.80 L306.86 115.07 L307.44 115.33 L308.02 115.60 L308.60 115.87 L309.17 116.14 L309.75 116.42 L310.33 116.69 L310.91 116.97 L311.48 117.25 L312.06 117.53 L312.64 117.82 L313.22 118.10 L313.80 118.39 L314.37 118.68 L314.95 118.97 L315.53 119.26 L316.11 119.56 L316.69 119.85 L317.26 120.15 L317.84 120.45 L318.42 120.75 L319.00 121.05 L319.58 121.36 L320.15 121.66 L320.73 121.97 L321.31 122.28 L321.89 122.59 L322.46 122.91 L323.04 123.22 L323.62 123.54 L324.20 123.85 L324.78 124.17 L325.35 124.49 L325.93 124.81 L326.51 125.14 L327.09 125.46 L327.67 125.79 L328.24 126.12 L328.82 126.45 L329.40 126.78 L329.98 127.11 L330.55 127.44 L331.13 127.78 L331.71 128.11 L332.29 128.45 L332.87 128.79 L333.44 129.13 L334.02 129.47 L334.60 129.81 L335.18 130.15 L335.76 130.50 L336.33 130.84 L336.91 131.19 L337.49 131.54 L338.07 131.89 L338.65 132.24 L339.22 132.59 L339.80 132.94 L340.38 133.30 L340.96 133.65 L341.53 134.01 L342.11 134.36 L342.69 134.72 L343.27 135.08 L343.85 135.44 L344.42 135.80 L345.00 136.16 L345.58 136.52 L346.16 136.89 L346.74 137.25 L347.31 137.62 L347.89 137.98 L348.47 138.35 L349.05 138.71 L349.63 139.08 L350.20 139.45 L350.78 139.82 L351.36 140.19 L351.94 140.56 L352.51 140.93 L353.09 141.30 L353.67 141.67 L354.25 142.00 L354.83 142.00 L355.40 142.00 L355.98 142.00 L356.56 142.00 L357.14 142.00 L357.72 142.00 L358.29 142.00 L358.87 142.00 L359.45 142.00 L360.03 142.00 L360.60 142.00 L361.18 142.00 L361.76 142.00 L362.34 142.00 L362.92 142.00 L363.49 142.00 L364.07 142.00 L364.65 142.00 L365.23 142.00 L365.81 142.00 L366.38 142.00 L366.96 142.00 L367.54 142.00 L368.12 142.00 L368.70 142.00 L369.27 142.00 L369.85 142.00 L370.43 142.00 L371.01 142.00 L371.58 142.00 L372.16 142.00 L372.74 142.00 L373.32 142.00 L373.90 142.00 L374.47 142.00 L375.05 142.00 L375.63 142.00 L376.21 142.00 L376.79 142.00 L377.36 142.00 L377.94 142.00 L378.52 142.00 L379.10 142.00 L379.68 142.00 L380.25 142.00 L380.83 142.00 L381.41 142.00 L381.99 142.00 L382.56 142.00 L383.14 142.00 L383.72 142.00 L384.30 142.00 L384.88 142.00 L385.45 142.00 L386.03 142.00 L386.61 142.00 L387.19 142.00 L387.77 142.00 L388.34 142.00 L388.92 142.00 L389.50 142.00 L390.08 142.00 L390.65 142.00 L391.23 142.00 L391.81 142.00 L392.39 142.00 L392.97 142.00 L393.54 142.00 L394.12 142.00 L394.70 142.00 L395.28 142.00 L395.86 142.00 L396.43 142.00 L397.01 142.00 L397.59 142.00 L398.17 142.00 L398.75 142.00 L399.32 142.00 L399.90 142.00 L400.48 142.00 L401.06 142.00 L401.63 142.00 L402.21 142.00 L402.79 142.00 L403.37 142.00 L403.95 142.00 L404.52 142.00 L405.10 142.00 L405.68 142.00 L406.26 142.00 L406.84 142.00 L407.41 142.00 L407.99 142.00 L408.57 142.00 L409.15 142.00 L409.73 142.00 L410.30 142.00 L410.88 142.00 L411.46 142.00 L412.04 142.00 L412.61 142.00 L413.19 142.00 L413.77 142.00 L414.35 142.00 L414.93 142.00 L415.50 142.00 L416.08 142.00 L416.66 142.00 L417.24 142.00" stroke="#00ff00" stroke-width="4" stroke-dasharray="6.12 5.33"/>
<path d="M244.45 142.00 L245.03 142.00 L245.61 142.00 L246.18 142.00 L246.76 142.00 L247.34 142.00 L247.92 142.00 L248.50 142.00 L249.07 141.99 L249.65 141.99 L250.23 141.99 L250.81 141.99 L251.38 141.99 L251.96 141.99 L252.54 141.98 L253.12 141.98 L253.70 141.98 L254.27 141.98 L254.85 141.97 L255.43 141.97 L256.01 141.97 L256.59 141.96 L257.16 141.96 L257.74 141.96 L258.32 141.95 L258.90 141.95 L259.48 141.94 L260.05 141.94 L260.63 141.93 L261.21 141.93 L261.79 141.92 L262.36 141.92 L262.94 141.91 L263.52 141.91 L264.10 141.90 L264.68 141.90 L265.25 141.89 L265.83 141.88 L266.41 141.88 L266.99 141.87 L267.57 141.86 L268.14 141.86 L268.72 141.85 L269.30 141.84 L269.88 141.83 L270.45 141.82 L271.03 141.82 L271.61 141.81 L272.19 141.80 L272.77 141.79 L273.34 141.78 L273.92 141.77 L274.50 141.76 L275.08 141.75 L275.66 141.74 L276.23 141.73 L276.81 141.72 L277.39 141.71 L277.97 141.70 L278.55 141.69 L279.12 141.68 L279.70 141.66 L280.28 141.65 L280.86 141.64 L281.43 141.63 L282.01 141.61 L282.59 141.60 L283.17 141.59 L283.75 141.57 L284.32 141.56 L284.90 141.55 L285.48 141.53 L286.06 141.52 L286.64 141.50 L287.21 141.49 L287.79 141.47 L288.37 141.45 L288.95 141.44 L289.53 141.42 L290.10 141.40 L290.68 141.39 L291.26 141.37 L291.84 141.35 L292.41 141.33 L292.99 141.32 L293.57 141.30 L294.15 141.28 L294.73 141.26 L295.30 141.24 L295.88 141.22 L296.46 141.20 L297.04 141.18 L297.62 141.16 L298.19 141.13 L298.77 141.11 L299.35 141.09 L299.93 141.07 L300.50 141.04 L301.08 141.02 L301.66 141.00 L302.24 140.97 L302.82 140.95 L303.39 140.92 L303.97 140.90 L304.55 140.87 L305.13 140.84 L305.71 140.82 L306.28 140.79 L306.86 140.76 L307.44 140.74 L308.02 140.71 L308.60 140.68 L309.17 140.65 L309.75 140.62 L310.33 140.59 L310.91 140.56 L311.48 140.53 L312.06 140.50 L312.64 140.46 L313.22 140.43 L313.80 140.40 L314.37 140.37 L314.95 140.33 L315.53 140.30 L316.11 140.26 L316.69 140.23 L317.26 140.19 L317.84 140.15 L318.42 140.12 L319.00 140.08 L319.58 140.04 L320.15 140.00 L320.73 139.97 L321.31 139.93 L321.89 139.89 L322.46 139.84 L323.04 139.80 L323.62 139.76 L324.20 139.72 L324.78 139.68 L325.35 139.63 L325.93 139.59 L326.51 139.55 L327.09 139.50 L327.67 139.45 L328.24 139.41 L328.82 139.36 L329.40 139.31 L329.98 139.27 L330.55 139.22 L331.13 139.17 L331.71 139.12 L332.29 139.07 L332.87 139.02 L333.44 138.96 L334.02 138.91 L334.60 138.86 L335.18 138.81 L335.76 138.75 L336.33 138.70 L336.91 138.64 L337.49 138.59 L338.07 138.53 L338.65 138.47 L339.22 138.41 L339.80 138.35 L340.38 138.29 L340.96 138.23 L341.53 138.17 L342.11 138.11 L342.69 138.05 L343.27 137.99 L343.85 137.92 L344.42 137.86 L345.00 137.79 L345.58 137.73 L346.16 137.66 L346.74 137.59 L347.31 137.53 L347.89 137.46 L348.47 137.39 L349.05 137.32 L349.63 137.25 L350.20 137.18 L350.78 137.10 L351.36 137.03 L351.94 136.96 L352.51 136.88 L353.09 136.81 L353.67 136.73 L354.25 136.66 L354.83 136.58 L355.40 136.50 L355.98 136.42 L356.56 136.34 L357.14 136.26 L357.72 136.18 L358.29 136.10 L358.87 136.02 L359.45 135.93 L360.03 135.85 L360.60 135.76 L361.18 135.68 L361.76 135.59 L362.34 135.50 L362.92 135.42 L363.49 135.33 L364.07 135.24 L364.65 135.15 L365.23 135.06 L365.81 134.96 L366.38 134.87 L366.96 134.78 L367.54 134.68 L368.12 134.59 L368.70 134.49 L369.27 134.40 L369.85 134.30 L370.43 134.20 L371.01 134.10 L371.58 134.00 L372.16 133.90 L372.74 133.80 L373.32 133.70 L373.90 133.60 L374.47 133.49 L375.05 133.39 L375.63 133.28 L376.21 133.18 L376.79 133.07 L377.36 132.96 L377.94 132.86 L378.52 132.75 L379.10 132.64 L379.68 132.53 L380.25 132.42 L380.83 132.30 L381.41 132.19 L381.99 132.08 L382.56 131.96 L383.14 131.85 L383.72 131.73 L384.30 131.62 L384.88 131.50 L385.45 131.38 L386.03 131.26 L386.61 131.14 L387.19 131.02 L387.77 130.90 L388.34 130.78 L388.92 130.66 L389.50 130.53 L390.08 130.41 L390.65 130.28 L391.23 130.16 L391.81 130.03 L392.39 129.90 L392.97 129.78 L393.54 129.65 L394.12 129.52 L394.70 129.39 L395.28 129.26 L395.86 129.13 L396.43 129.00 L397.01 128.86 L397.59 128.73 L398.17 128.60 L398.75 128.46 L399.32 128.33 L399.90 128.19 L400.48 128.05 L401.06 127.92 L401.63 127.78 L402.21 127.64 L402.79 127.50 L403.37 127.36 L403.95 127.22 L404.52 127.08 L405.10 126.94 L405.68 126.80 L406.26 126.65 L406.84 126.51 L407.41 126.37 L407.99 126.22 L408.57 126.08 L409.15 125.93 L409.73 125.78 L410.30 125.64 L410.88 125.49 L411.46 125.34 L412.04 125.19 L412.61 125.04 L413.19 124.89 L413.77 124.74 L414.35 124.59 L414.93 124.44 L415.50 124.29 L416.08 124.14 L416.66 123.98 L417.24 123.83" stroke="#ff8000" stroke-width="2" stroke-dasharray="0.01 4.4 51.19 4.4"/>
</g>
<g stroke="#444" stroke-width="0.5" fill="none">
<path d="M244.45 40.20V151.40"/>
<path d="M244.45 142.00H420.45" stroke="#000" stroke-width="0.5" opacity="0.55"/>
<path d="M244.45 149.68h1.1M244.45 145.84h1.1M244.45 138.16h1.1M244.45 134.32h1.1M244.45 130.48h1.1M244.45 126.64h1.1M244.45 122.80h2.4M244.45 118.96h1.1M244.45 115.12h1.1M244.45 111.28h1.1M244.45 107.44h1.1M244.45 103.60h2.4M244.45 99.76h1.1M244.45 95.92h1.1M244.45 92.08h1.1M244.45 88.24h1.1M244.45 84.40h2.4M244.45 80.56h1.1M244.45 76.72h1.1M244.45 72.88h1.1M244.45 69.04h1.1M244.45 65.20h2.4M244.45 61.36h1.1M244.45 57.52h1.1M244.45 53.68h1.1M244.45 49.84h1.1M244.45 46.00h2.4M244.45 42.16h1.1" stroke-width="0.5"/>
<path d="M255.45 142.00v-1.3M266.45 142.00v-1.3M277.45 142.00v-1.3M288.45 142.00v-2.2M299.45 142.00v-1.3M310.45 142.00v-1.3M321.45 142.00v-1.3M332.45 142.00v-2.2M343.45 142.00v-1.3M354.45 142.00v-1.3M365.45 142.00v-1.3M376.45 142.00v-2.2M387.45 142.00v-1.3M398.45 142.00v-1.3M409.45 142.00v-1.3M420.45 142.00v-2.2" stroke-width="0.5" opacity="0.8"/>
</g>
<g style="text-rendering:geometricPrecision" filter="url(#nf)" stroke="#000" stroke-width="0.12">
<text x="241.65" y="126.40" font-size="10.5" text-anchor="end">0.1</text>
<text x="241.65" y="107.20" font-size="10.5" text-anchor="end">0.2</text>
<text x="241.65" y="88.00" font-size="10.5" text-anchor="end">0.3</text>
<text x="241.65" y="68.80" font-size="10.5" text-anchor="end">0.4</text>
<text x="241.65" y="49.60" font-size="10.5" text-anchor="end">0.5</text>
<text x="288.05" y="153.60" font-size="10.5" text-anchor="middle">0.2</text>
<text x="332.05" y="153.60" font-size="10.5" text-anchor="middle">0.4</text>
<text x="376.05" y="153.60" font-size="10.5" text-anchor="middle">0.6</text>
<text x="420.05" y="153.60" font-size="10.5" text-anchor="middle">0.8</text>
<text x="221.25" y="32.35" font-size="10.4" font-weight="bold">Negativity</text>
<text x="330.45" y="16.80" font-size="18.65" font-weight="bold" text-anchor="middle">qr = 0.75</text>
<text x="409.20" y="51.70" font-size="17" text-anchor="middle">(b)</text>
<path transform="translate(220.75 0.00)" fill="#000" d="M205.1 142.8C205.4 141 206.5 139.8 207.9 139.8C209.4 139.8 209.9 141.2 210.1 145L213 139.9L214.5 139.9L210 147.2C209.6 148.4 209 150.4 207.6 150.4C206.5 150.4 206.5 149 207.3 147.8L208.2 146.3C208.1 143.5 207.8 141.8 207 141.8C206.4 141.8 205.9 142.4 205.7 143.1Z"/>
</g>
<g fill="none" stroke-linecap="square" stroke-linejoin="round">
<path d="M159.50 301.50 L160.08 301.50 L160.66 301.50 L161.24 301.50 L161.81 301.50 L162.39 301.50 L162.97 301.50 L163.55 301.50 L164.13 301.50 L164.70 301.50 L165.28 301.50 L165.86 301.50 L166.44 301.50 L167.02 301.50 L167.59 301.50 L168.17 301.50 L168.75 301.50 L169.33 301.50 L169.90 301.50 L170.48 301.50 L171.06 301.50 L171.64 301.50 L172.22 301.50 L172.79 301.50 L173.37 301.50 L173.95 301.50 L174.53 301.50 L175.11 301.50 L175.68 301.50 L176.26 301.50 L176.84 301.50 L177.42 301.50 L178.00 301.50 L178.57 301.50 L179.15 301.50 L179.73 301.50 L180.31 301.50 L180.88 301.50 L181.46 301.50 L182.04 301.50 L182.62 301.50 L183.20 301.50 L183.77 301.50 L184.35 301.50 L184.93 301.50 L185.51 301.50 L186.09 301.50 L186.66 301.50 L187.24 301.50 L187.82 301.50 L188.40 301.50 L188.98 301.50 L189.55 301.50 L190.13 301.50 L190.71 301.50 L191.29 301.50 L191.86 301.50 L192.44 301.50 L193.02 301.50 L193.60 301.50 L194.18 301.50 L194.75 301.50 L195.33 301.50 L195.91 301.50 L196.49 301.50" stroke="#0000ff" stroke-width="1.6"/>
<path d="M23.70 277.50 L24.28 277.50 L24.86 277.50 L25.43 277.51 L26.01 277.51 L26.59 277.51 L27.17 277.52 L27.75 277.53 L28.32 277.54 L28.90 277.55 L29.48 277.56 L30.06 277.57 L30.63 277.58 L31.21 277.60 L31.79 277.61 L32.37 277.63 L32.95 277.64 L33.52 277.66 L34.10 277.68 L34.68 277.70 L35.26 277.72 L35.84 277.75 L36.41 277.77 L36.99 277.80 L37.57 277.82 L38.15 277.85 L38.73 277.88 L39.30 277.91 L39.88 277.94 L40.46 277.97 L41.04 278.00 L41.61 278.04 L42.19 278.07 L42.77 278.11 L43.35 278.15 L43.93 278.19 L44.50 278.23 L45.08 278.27 L45.66 278.31 L46.24 278.35 L46.82 278.40 L47.39 278.44 L47.97 278.49 L48.55 278.53 L49.13 278.58 L49.70 278.63 L50.28 278.68 L50.86 278.73 L51.44 278.79 L52.02 278.84 L52.59 278.89 L53.17 278.95 L53.75 279.01 L54.33 279.06 L54.91 279.12 L55.48 279.18 L56.06 279.24 L56.64 279.31 L57.22 279.37 L57.80 279.43 L58.37 279.50 L58.95 279.56 L59.53 279.63 L60.11 279.70 L60.68 279.77 L61.26 279.84 L61.84 279.91 L62.42 279.98 L63.00 280.06 L63.57 280.13 L64.15 280.21 L64.73 280.28 L65.31 280.36 L65.89 280.44 L66.46 280.52 L67.04 280.60 L67.62 280.68 L68.20 280.76 L68.78 280.84 L69.35 280.93 L69.93 281.01 L70.51 281.10 L71.09 281.19 L71.66 281.27 L72.24 281.36 L72.82 281.45 L73.40 281.54 L73.98 281.64 L74.55 281.73 L75.13 281.82 L75.71 281.92 L76.29 282.01 L76.87 282.11 L77.44 282.21 L78.02 282.30 L78.60 282.40 L79.18 282.50 L79.75 282.60 L80.33 282.71 L80.91 282.81 L81.49 282.91 L82.07 283.02 L82.64 283.12 L83.22 283.23 L83.80 283.33 L84.38 283.44 L84.96 283.55 L85.53 283.66 L86.11 283.77 L86.69 283.88 L87.27 283.99 L87.85 284.10 L88.42 284.22 L89.00 284.33 L89.58 284.45 L90.16 284.56 L90.73 284.68 L91.31 284.80 L91.89 284.91 L92.47 285.03 L93.05 285.15 L93.62 285.27 L94.20 285.39 L94.78 285.51 L95.36 285.64 L95.94 285.76 L96.51 285.88 L97.09 286.01 L97.67 286.13 L98.25 286.26 L98.83 286.39 L99.40 286.51 L99.98 286.64 L100.56 286.77 L101.14 286.90 L101.71 287.03 L102.29 287.16 L102.87 287.29 L103.45 287.42 L104.03 287.55 L104.60 287.69 L105.18 287.82 L105.76 287.95 L106.34 288.09 L106.92 288.22 L107.49 288.36 L108.07 288.49 L108.65 288.63 L109.23 288.77 L109.80 288.91 L110.38 289.05 L110.96 289.18 L111.54 289.32 L112.12 289.46 L112.69 289.60 L113.27 289.74 L113.85 289.89 L114.43 290.03 L115.01 290.17 L115.58 290.31 L116.16 290.46 L116.74 290.60 L117.32 290.74 L117.90 290.89 L118.47 291.03 L119.05 291.18 L119.63 291.32 L120.21 291.47 L120.78 291.61 L121.36 291.76 L121.94 291.91 L122.52 292.05 L123.10 292.20 L123.67 292.35 L124.25 292.50 L124.83 292.65 L125.41 292.79 L125.99 292.94 L126.56 293.09 L127.14 293.24 L127.72 293.39 L128.30 293.54 L128.88 293.69 L129.45 293.84 L130.03 293.99 L130.61 294.14 L131.19 294.29 L131.76 294.44 L132.34 294.59 L132.92 294.74 L133.50 294.89 L134.08 295.05 L134.65 295.20 L135.23 295.35 L135.81 295.50 L136.39 295.65 L136.97 295.80 L137.54 295.95 L138.12 296.11 L138.70 296.26 L139.28 296.41 L139.85 296.56 L140.43 296.71 L141.01 296.86 L141.59 297.01 L142.17 297.16 L142.74 297.32 L143.32 297.47 L143.90 297.62 L144.48 297.77 L145.06 297.92 L145.63 298.07 L146.21 298.22 L146.79 298.37 L147.37 298.52 L147.95 298.67 L148.52 298.82 L149.10 298.97 L149.68 299.12 L150.26 299.27 L150.83 299.41 L151.41 299.56 L151.99 299.71 L152.57 299.86 L153.15 300.01 L153.72 300.15 L154.30 300.30 L154.88 300.44 L155.46 300.59 L156.04 300.74 L156.61 300.88 L157.19 301.02 L157.77 301.17 L158.35 301.31 L158.93 301.46 L159.50 301.50" stroke="#0000ff" stroke-width="2" stroke-linecap="butt"/>
<path d="M23.70 277.50 L24.28 277.50" stroke="#0000ff" stroke-width="2"/>
<path d="M23.70 301.50 L24.28 301.50 L24.86 301.50 L25.43 301.50 L26.01 301.49 L26.59 301.49 L27.17 301.49 L27.75 301.48 L28.32 301.48 L28.90 301.47 L29.48 301.47 L30.06 301.46 L30.63 301.45 L31.21 301.44 L31.79 301.44 L32.37 301.43 L32.95 301.42 L33.52 301.41 L34.10 301.39 L34.68 301.38 L35.26 301.37 L35.84 301.36 L36.41 301.34 L36.99 301.33 L37.57 301.31 L38.15 301.30 L38.73 301.28 L39.30 301.27 L39.88 301.25 L40.46 301.23 L41.04 301.21 L41.61 301.19 L42.19 301.17 L42.77 301.15 L43.35 301.13 L43.93 301.11 L44.50 301.09 L45.08 301.07 L45.66 301.05 L46.24 301.03 L46.82 301.00 L47.39 300.98 L47.97 300.95 L48.55 300.93 L49.13 300.91 L49.70 300.88 L50.28 300.85 L50.86 300.83 L51.44 300.80 L52.02 300.78 L52.59 300.75 L53.17 300.72 L53.75 300.69 L54.33 300.67 L54.91 300.64 L55.48 300.61 L56.06 300.58 L56.64 300.55 L57.22 300.52 L57.80 300.49 L58.37 300.47 L58.95 300.44 L59.53 300.41 L60.11 300.38 L60.68 300.35 L61.26 300.32 L61.84 300.29 L62.42 300.26 L63.00 300.23 L63.57 300.20 L64.15 300.16 L64.73 300.13 L65.31 300.10 L65.89 300.07 L66.46 300.04 L67.04 300.01 L67.62 299.98 L68.20 299.95 L68.78 299.92 L69.35 299.89 L69.93 299.86 L70.51 299.83 L71.09 299.80 L71.66 299.77 L72.24 299.74 L72.82 299.71 L73.40 299.69 L73.98 299.66 L74.55 299.63 L75.13 299.60 L75.71 299.57 L76.29 299.55 L76.87 299.52 L77.44 299.49 L78.02 299.47 L78.60 299.44 L79.18 299.41 L79.75 299.39 L80.33 299.36 L80.91 299.34 L81.49 299.31 L82.07 299.29 L82.64 299.27 L83.22 299.25 L83.80 299.22 L84.38 299.20 L84.96 299.18 L85.53 299.16 L86.11 299.14 L86.69 299.12 L87.27 299.10 L87.85 299.08 L88.42 299.07 L89.00 299.05 L89.58 299.03 L90.16 299.02 L90.73 299.00 L91.31 298.99 L91.89 298.98 L92.47 298.97 L93.05 298.95 L93.62 298.94 L94.20 298.93 L94.78 298.92 L95.36 298.91 L95.94 298.91 L96.51 298.90 L97.09 298.89 L97.67 298.89 L98.25 298.89 L98.83 298.88 L99.40 298.88 L99.98 298.88 L100.56 298.88 L101.14 298.88 L101.71 298.88 L102.29 298.88 L102.87 298.89 L103.45 298.89 L104.03 298.90 L104.60 298.90 L105.18 298.91 L105.76 298.92 L106.34 298.93 L106.92 298.94 L107.49 298.95 L108.07 298.96 L108.65 298.98 L109.23 298.99 L109.80 299.01 L110.38 299.03 L110.96 299.05 L111.54 299.07 L112.12 299.09 L112.69 299.11 L113.27 299.13 L113.85 299.16 L114.43 299.19 L115.01 299.21 L115.58 299.24 L116.16 299.27 L116.74 299.30 L117.32 299.33 L117.90 299.37 L118.47 299.40 L119.05 299.44 L119.63 299.48 L120.21 299.51 L120.78 299.55 L121.36 299.60 L121.94 299.64 L122.52 299.68 L123.10 299.73 L123.67 299.77 L124.25 299.82 L124.83 299.87 L125.41 299.92 L125.99 299.97 L126.56 300.03 L127.14 300.08 L127.72 300.14 L128.30 300.20 L128.88 300.26 L129.45 300.32 L130.03 300.38 L130.61 300.44 L131.19 300.50 L131.76 300.57 L132.34 300.64 L132.92 300.71 L133.50 300.78 L134.08 300.85 L134.65 300.92 L135.23 301.00 L135.81 301.07 L136.39 301.15 L136.97 301.23 L137.54 301.31 L138.12 301.39 L138.70 301.47 L139.28 301.50 L139.85 301.50 L140.43 301.50 L141.01 301.50 L141.59 301.50 L142.17 301.50 L142.74 301.50 L143.32 301.50 L143.90 301.50 L144.48 301.50 L145.06 301.50 L145.63 301.50 L146.21 301.50 L146.79 301.50 L147.37 301.50 L147.95 301.50 L148.52 301.50 L149.10 301.50 L149.68 301.50 L150.26 301.50 L150.83 301.50 L151.41 301.50 L151.99 301.50 L152.57 301.50 L153.15 301.50 L153.72 301.50 L154.30 301.50 L154.88 301.50 L155.46 301.50 L156.04 301.50 L156.61 301.50 L157.19 301.50 L157.77 301.50 L158.35 301.50 L158.93 301.50 L159.50 301.50 L160.08 301.50 L160.66 301.50 L161.24 301.50 L161.81 301.50 L162.39 301.50 L162.97 301.50 L163.55 301.50 L164.13 301.50 L164.70 301.50 L165.28 301.50 L165.86 301.50 L166.44 301.50 L167.02 301.50 L167.59 301.50 L168.17 301.50 L168.75 301.50 L169.33 301.50 L169.90 301.50 L170.48 301.50 L171.06 301.50 L171.64 301.50 L172.22 301.50 L172.79 301.50 L173.37 301.50 L173.95 301.50 L174.53 301.50 L175.11 301.50 L175.68 301.50 L176.26 301.50 L176.84 301.50 L177.42 301.50 L178.00 301.50 L178.57 301.50 L179.15 301.50 L179.73 301.50 L180.31 301.50 L180.88 301.50 L181.46 301.50 L182.04 301.50 L182.62 301.50 L183.20 301.50 L183.77 301.50 L184.35 301.50 L184.93 301.50 L185.51 301.50 L186.09 301.50 L186.66 301.50 L187.24 301.50 L187.82 301.50 L188.40 301.50 L188.98 301.50 L189.55 301.50 L190.13 301.50 L190.71 301.50 L191.29 301.50 L191.86 301.50 L192.44 301.50 L193.02 301.50 L193.60 301.50 L194.18 301.50 L194.75 301.50 L195.33 301.50 L195.91 301.50 L196.49 301.50" stroke="#ff0000" stroke-width="4" stroke-dasharray="18.4 17.4"/>
<path d="M23.70 229.50 L24.28 229.50 L24.86 229.51 L25.43 229.52 L26.01 229.53 L26.59 229.54 L27.17 229.56 L27.75 229.58 L28.32 229.61 L28.90 229.64 L29.48 229.67 L30.06 229.71 L30.63 229.75 L31.21 229.79 L31.79 229.84 L32.37 229.89 L32.95 229.94 L33.52 230.00 L34.10 230.06 L34.68 230.12 L35.26 230.19 L35.84 230.26 L36.41 230.33 L36.99 230.41 L37.57 230.49 L38.15 230.58 L38.73 230.66 L39.30 230.75 L39.88 230.85 L40.46 230.95 L41.04 231.05 L41.61 231.15 L42.19 231.26 L42.77 231.37 L43.35 231.49 L43.93 231.60 L44.50 231.73 L45.08 231.85 L45.66 231.98 L46.24 232.11 L46.82 232.24 L47.39 232.38 L47.97 232.52 L48.55 232.67 L49.13 232.81 L49.70 232.97 L50.28 233.12 L50.86 233.28 L51.44 233.44 L52.02 233.60 L52.59 233.77 L53.17 233.94 L53.75 234.11 L54.33 234.29 L54.91 234.47 L55.48 234.65 L56.06 234.84 L56.64 235.03 L57.22 235.22 L57.80 235.42 L58.37 235.62 L58.95 235.82 L59.53 236.03 L60.11 236.23 L60.68 236.45 L61.26 236.66 L61.84 236.88 L62.42 237.10 L63.00 237.32 L63.57 237.55 L64.15 237.78 L64.73 238.01 L65.31 238.25 L65.89 238.49 L66.46 238.73 L67.04 238.97 L67.62 239.22 L68.20 239.47 L68.78 239.73 L69.35 239.98 L69.93 240.24 L70.51 240.50 L71.09 240.77 L71.66 241.04 L72.24 241.31 L72.82 241.58 L73.40 241.86 L73.98 242.14 L74.55 242.42 L75.13 242.70 L75.71 242.99 L76.29 243.28 L76.87 243.57 L77.44 243.87 L78.02 244.17 L78.60 244.47 L79.18 244.77 L79.75 245.08 L80.33 245.39 L80.91 245.70 L81.49 246.01 L82.07 246.33 L82.64 246.65 L83.22 246.97 L83.80 247.30 L84.38 247.62 L84.96 247.95 L85.53 248.28 L86.11 248.62 L86.69 248.95 L87.27 249.29 L87.85 249.63 L88.42 249.98 L89.00 250.32 L89.58 250.67 L90.16 251.02 L90.73 251.37 L91.31 251.73 L91.89 252.09 L92.47 252.45 L93.05 252.81 L93.62 253.17 L94.20 253.54 L94.78 253.91 L95.36 254.28 L95.94 254.65 L96.51 255.02 L97.09 255.40 L97.67 255.78 L98.25 256.16 L98.83 256.54 L99.40 256.93 L99.98 257.31 L100.56 257.70 L101.14 258.09 L101.71 258.48 L102.29 258.88 L102.87 259.27 L103.45 259.67 L104.03 260.07 L104.60 260.47 L105.18 260.87 L105.76 261.28 L106.34 261.68 L106.92 262.09 L107.49 262.50 L108.07 262.91 L108.65 263.33 L109.23 263.74 L109.80 264.16 L110.38 264.57 L110.96 264.99 L111.54 265.41 L112.12 265.83 L112.69 266.26 L113.27 266.68 L113.85 267.11 L114.43 267.53 L115.01 267.96 L115.58 268.39 L116.16 268.82 L116.74 269.25 L117.32 269.69 L117.90 270.12 L118.47 270.56 L119.05 270.99 L119.63 271.43 L120.21 271.87 L120.78 272.31 L121.36 272.75 L121.94 273.19 L122.52 273.63 L123.10 274.08 L123.67 274.52 L124.25 274.96 L124.83 275.41 L125.41 275.86 L125.99 276.30 L126.56 276.75 L127.14 277.20 L127.72 277.65 L128.30 278.10 L128.88 278.54 L129.45 279.00 L130.03 279.45 L130.61 279.90 L131.19 280.35 L131.76 280.80 L132.34 281.25 L132.92 281.70 L133.50 282.16 L134.08 282.61 L134.65 283.06 L135.23 283.51 L135.81 283.96 L136.39 284.42 L136.97 284.87 L137.54 285.32 L138.12 285.77 L138.70 286.22 L139.28 286.68 L139.85 287.13 L140.43 287.58 L141.01 288.03 L141.59 288.48 L142.17 288.93 L142.74 289.37 L143.32 289.82 L143.90 290.27 L144.48 290.72 L145.06 291.16 L145.63 291.61 L146.21 292.05 L146.79 292.49 L147.37 292.93 L147.95 293.37 L148.52 293.81 L149.10 294.25 L149.68 294.68 L150.26 295.12 L150.83 295.55 L151.41 295.98 L151.99 296.41 L152.57 296.84 L153.15 297.26 L153.72 297.68 L154.30 298.10 L154.88 298.52 L155.46 298.94 L156.04 299.35 L156.61 299.76 L157.19 300.17 L157.77 300.58 L158.35 300.98 L158.93 301.38 L159.50 301.50 L160.08 301.50 L160.66 301.50 L161.24 301.50 L161.81 301.50 L162.39 301.50 L162.97 301.50 L163.55 301.50 L164.13 301.50 L164.70 301.50 L165.28 301.50 L165.86 301.50 L166.44 301.50 L167.02 301.50 L167.59 301.50 L168.17 301.50 L168.75 301.50 L169.33 301.50 L169.90 301.50 L170.48 301.50 L171.06 301.50 L171.64 301.50 L172.22 301.50 L172.79 301.50 L173.37 301.50 L173.95 301.50 L174.53 301.50 L175.11 301.50 L175.68 301.50 L176.26 301.50 L176.84 301.50 L177.42 301.50 L178.00 301.50 L178.57 301.50 L179.15 301.50 L179.73 301.50 L180.31 301.50 L180.88 301.50 L181.46 301.50 L182.04 301.50 L182.62 301.50 L183.20 301.50 L183.77 301.50 L184.35 301.50 L184.93 301.50 L185.51 301.50 L186.09 301.50 L186.66 301.50 L187.24 301.50 L187.82 301.50 L188.40 301.50 L188.98 301.50 L189.55 301.50 L190.13 301.50 L190.71 301.50 L191.29 301.50 L191.86 301.50 L192.44 301.50 L193.02 301.50 L193.60 301.50 L194.18 301.50 L194.75 301.50 L195.33 301.50 L195.91 301.50 L196.49 301.50" stroke="#00ff00" stroke-width="4" stroke-dasharray="6.14 5.34"/>
<path d="M23.70 301.50 L24.28 301.50 L24.86 301.50 L25.43 301.50 L26.01 301.50 L26.59 301.50 L27.17 301.50 L27.75 301.50 L28.32 301.50 L28.90 301.50 L29.48 301.50 L30.06 301.50 L30.63 301.50 L31.21 301.50 L31.79 301.50 L32.37 301.50 L32.95 301.50 L33.52 301.50 L34.10 301.50 L34.68 301.50 L35.26 301.50 L35.84 301.50 L36.41 301.50 L36.99 301.50 L37.57 301.50 L38.15 301.50 L38.73 301.50 L39.30 301.50 L39.88 301.50 L40.46 301.50 L41.04 301.50 L41.61 301.50 L42.19 301.50 L42.77 301.50 L43.35 301.50 L43.93 301.50 L44.50 301.50 L45.08 301.50 L45.66 301.50 L46.24 301.50 L46.82 301.50 L47.39 301.50 L47.97 301.50 L48.55 301.50 L49.13 301.50 L49.70 301.50 L50.28 301.50 L50.86 301.50 L51.44 301.50 L52.02 301.50 L52.59 301.50 L53.17 301.50 L53.75 301.50 L54.33 301.50 L54.91 301.50 L55.48 301.50 L56.06 301.50 L56.64 301.50 L57.22 301.50 L57.80 301.50 L58.37 301.50 L58.95 301.50 L59.53 301.50 L60.11 301.50 L60.68 301.50 L61.26 301.50 L61.84 301.50 L62.42 301.50 L63.00 301.50 L63.57 301.50 L64.15 301.50 L64.73 301.50 L65.31 301.50 L65.89 301.50 L66.46 301.50 L67.04 301.50 L67.62 301.50 L68.20 301.50 L68.78 301.50 L69.35 301.50 L69.93 301.50 L70.51 301.50 L71.09 301.50 L71.66 301.50 L72.24 301.50 L72.82 301.50 L73.40 301.50 L73.98 301.50 L74.55 301.50 L75.13 301.50 L75.71 301.50 L76.29 301.50 L76.87 301.50 L77.44 301.50 L78.02 301.50 L78.60 301.50 L79.18 301.50 L79.75 301.50 L80.33 301.50 L80.91 301.50 L81.49 301.50 L82.07 301.50 L82.64 301.50 L83.22 301.50 L83.80 301.50 L84.38 301.50 L84.96 301.50 L85.53 301.50 L86.11 301.50 L86.69 301.50 L87.27 301.50 L87.85 301.50 L88.42 301.50 L89.00 301.50 L89.58 301.50 L90.16 301.50 L90.73 301.50 L91.31 301.50 L91.89 301.50 L92.47 301.50 L93.05 301.50 L93.62 301.50 L94.20 301.50 L94.78 301.50 L95.36 301.50 L95.94 301.50 L96.51 301.50 L97.09 301.50 L97.67 301.50 L98.25 301.50 L98.83 301.50 L99.40 301.50 L99.98 301.50 L100.56 301.50 L101.14 301.50 L101.71 301.50 L102.29 301.50 L102.87 301.50 L103.45 301.50 L104.03 301.50 L104.60 301.50 L105.18 301.50 L105.76 301.50 L106.34 301.50 L106.92 301.50 L107.49 301.50 L108.07 301.50 L108.65 301.50 L109.23 301.50 L109.80 301.50 L110.38 301.50 L110.96 301.50 L111.54 301.50 L112.12 301.50 L112.69 301.50 L113.27 301.50 L113.85 301.50 L114.43 301.50 L115.01 301.50 L115.58 301.50 L116.16 301.50 L116.74 301.50 L117.32 301.50 L117.90 301.50 L118.47 301.50 L119.05 301.50 L119.63 301.50 L120.21 301.50 L120.78 301.50 L121.36 301.50 L121.94 301.50 L122.52 301.50 L123.10 301.50 L123.67 301.50 L124.25 301.50 L124.83 301.50 L125.41 301.50 L125.99 301.50 L126.56 301.50 L127.14 301.50 L127.72 301.50 L128.30 301.50 L128.88 301.50 L129.45 301.50 L130.03 301.50 L130.61 301.50 L131.19 301.50 L131.76 301.50 L132.34 301.50 L132.92 301.50 L133.50 301.50 L134.08 301.50 L134.65 301.50 L135.23 301.50 L135.81 301.50 L136.39 301.50 L136.97 301.50 L137.54 301.50 L138.12 301.50 L138.70 301.50 L139.28 301.50 L139.85 301.50 L140.43 301.50 L141.01 301.50 L141.59 301.50 L142.17 301.50 L142.74 301.50 L143.32 301.50 L143.90 301.50 L144.48 301.50 L145.06 301.50 L145.63 301.50 L146.21 301.50 L146.79 301.50 L147.37 301.50 L147.95 301.50 L148.52 301.50 L149.10 301.50 L149.68 301.50 L150.26 301.50 L150.83 301.50 L151.41 301.50 L151.99 301.50 L152.57 301.50 L153.15 301.50 L153.72 301.50 L154.30 301.50 L154.88 301.50 L155.46 301.50 L156.04 301.50 L156.61 301.50 L157.19 301.50 L157.77 301.50 L158.35 301.50 L158.93 301.50 L159.50 301.50 L160.08 301.50 L160.66 301.50 L161.24 301.50 L161.81 301.50 L162.39 301.50 L162.97 301.50 L163.55 301.50 L164.13 301.50 L164.70 301.50 L165.28 301.50 L165.86 301.50 L166.44 301.50 L167.02 301.50 L167.59 301.50 L168.17 301.50 L168.75 301.50 L169.33 301.50 L169.90 301.50 L170.48 301.50 L171.06 301.50 L171.64 301.50 L172.22 301.50 L172.79 301.50 L173.37 301.50 L173.95 301.50 L174.53 301.50 L175.11 301.50 L175.68 301.50 L176.26 301.50 L176.84 301.50 L177.42 301.50 L178.00 301.50 L178.57 301.50 L179.15 301.50 L179.73 301.50 L180.31 301.50 L180.88 301.50 L181.46 301.50 L182.04 301.50 L182.62 301.50 L183.20 301.50 L183.77 301.50 L184.35 301.50 L184.93 301.50 L185.51 301.50 L186.09 301.50 L186.66 301.50 L187.24 301.50 L187.82 301.50 L188.40 301.50 L188.98 301.50 L189.55 301.50 L190.13 301.50 L190.71 301.50 L191.29 301.50 L191.86 301.50 L192.44 301.50 L193.02 301.50 L193.60 301.50 L194.18 301.50 L194.75 301.50 L195.33 301.50 L195.91 301.50 L196.49 301.50" stroke="#ff8000" stroke-width="2" stroke-dasharray="0.01 4.4 51.19 4.4"/>
</g>
<g stroke="#444" stroke-width="0.5" fill="none">
<path d="M23.70 199.70V310.90"/>
<path d="M23.70 301.50H199.70" stroke="#000" stroke-width="0.5" opacity="0.55"/>
<path d="M23.70 309.18h1.1M23.70 305.34h1.1M23.70 297.66h1.1M23.70 293.82h1.1M23.70 289.98h1.1M23.70 286.14h1.1M23.70 282.30h2.4M23.70 278.46h1.1M23.70 274.62h1.1M23.70 270.78h1.1M23.70 266.94h1.1M23.70 263.10h2.4M23.70 259.26h1.1M23.70 255.42h1.1M23.70 251.58h1.1M23.70 247.74h1.1M23.70 243.90h2.4M23.70 240.06h1.1M23.70 236.22h1.1M23.70 232.38h1.1M23.70 228.54h1.1M23.70 224.70h2.4M23.70 220.86h1.1M23.70 217.02h1.1M23.70 213.18h1.1M23.70 209.34h1.1M23.70 205.50h2.4M23.70 201.66h1.1" stroke-width="0.5"/>
<path d="M34.70 301.50v-1.3M45.70 301.50v-1.3M56.70 301.50v-1.3M67.70 301.50v-2.2M78.70 301.50v-1.3M89.70 301.50v-1.3M100.70 301.50v-1.3M111.70 301.50v-2.2M122.70 301.50v-1.3M133.70 301.50v-1.3M144.70 301.50v-1.3M155.70 301.50v-2.2M166.70 301.50v-1.3M177.70 301.50v-1.3M188.70 301.50v-1.3M199.70 301.50v-2.2" stroke-width="0.5" opacity="0.8"/>
</g>
<g style="text-rendering:geometricPrecision" filter="url(#nf)" stroke="#000" stroke-width="0.12">
<text x="20.90" y="285.90" font-size="10.5" text-anchor="end">0.1</text>
<text x="20.90" y="266.70" font-size="10.5" text-anchor="end">0.2</text>
<text x="20.90" y="247.50" font-size="10.5" text-anchor="end">0.3</text>
<text x="20.90" y="228.30" font-size="10.5" text-anchor="end">0.4</text>
<text x="20.90" y="209.10" font-size="10.5" text-anchor="end">0.5</text>
<text x="67.30" y="313.10" font-size="10.5" text-anchor="middle">0.2</text>
<text x="111.30" y="313.10" font-size="10.5" text-anchor="middle">0.4</text>
<text x="155.30" y="313.10" font-size="10.5" text-anchor="middle">0.6</text>
<text x="199.30" y="313.10" font-size="10.5" text-anchor="middle">0.8</text>
<text x="0.50" y="191.85" font-size="10.4" font-weight="bold">Negativity</text>
<text x="109.70" y="176.30" font-size="18.65" font-weight="bold" text-anchor="middle">qr = 0.5</text>
<text x="188.45" y="211.20" font-size="17" text-anchor="middle">(c)</text>
<path transform="translate(0.00 159.50)" fill="#000" d="M205.1 142.8C205.4 141 206.5 139.8 207.9 139.8C209.4 139.8 209.9 141.2 210.1 145L213 139.9L214.5 139.9L210 147.2C209.6 148.4 209 150.4 207.6 150.4C206.5 150.4 206.5 149 207.3 147.8L208.2 146.3C208.1 143.5 207.8 141.8 207 141.8C206.4 141.8 205.9 142.4 205.7 143.1Z"/>
</g>
<g fill="none" stroke-linecap="square" stroke-linejoin="round">
<path d="M302.24 301.50 L302.82 301.50 L303.39 301.50 L303.97 301.50 L304.55 301.50 L305.13 301.50 L305.71 301.50 L306.28 301.50 L306.86 301.50 L307.44 301.50 L308.02 301.50 L308.60 301.50 L309.17 301.50 L309.75 301.50 L310.33 301.50 L310.91 301.50 L311.48 301.50 L312.06 301.50 L312.64 301.50 L313.22 301.50 L313.80 301.50 L314.37 301.50 L314.95 301.50 L315.53 301.50 L316.11 301.50 L316.69 301.50 L317.26 301.50 L317.84 301.50 L318.42 301.50 L319.00 301.50 L319.58 301.50 L320.15 301.50 L320.73 301.50 L321.31 301.50 L321.89 301.50 L322.46 301.50 L323.04 301.50 L323.62 301.50 L324.20 301.50 L324.78 301.50 L325.35 301.50 L325.93 301.50 L326.51 301.50 L327.09 301.50 L327.67 301.50 L328.24 301.50 L328.82 301.50 L329.40 301.50 L329.98 301.50 L330.55 301.50 L331.13 301.50 L331.71 301.50 L332.29 301.50 L332.87 301.50 L333.44 301.50 L334.02 301.50 L334.60 301.50 L335.18 301.50 L335.76 301.50 L336.33 301.50 L336.91 301.50 L337.49 301.50 L338.07 301.50 L338.65 301.50 L339.22 301.50 L339.80 301.50 L340.38 301.50 L340.96 301.50 L341.53 301.50 L342.11 301.50 L342.69 301.50 L343.27 301.50 L343.85 301.50 L344.42 301.50 L345.00 301.50 L345.58 301.50 L346.16 301.50 L346.74 301.50 L347.31 301.50 L347.89 301.50 L348.47 301.50 L349.05 301.50 L349.63 301.50 L350.20 301.50 L350.78 301.50 L351.36 301.50 L351.94 301.50 L352.51 301.50 L353.09 301.50 L353.67 301.50 L354.25 301.50 L354.83 301.50 L355.40 301.50 L355.98 301.50 L356.56 301.50 L357.14 301.50 L357.72 301.50 L358.29 301.50 L358.87 301.50 L359.45 301.50 L360.03 301.50 L360.60 301.50 L361.18 301.50 L361.76 301.50 L362.34 301.50 L362.92 301.50 L363.49 301.50 L364.07 301.50 L364.65 301.50 L365.23 301.50 L365.81 301.50 L366.38 301.50 L366.96 301.50 L367.54 301.50 L368.12 301.50 L368.70 301.50 L369.27 301.50 L369.85 301.50 L370.43 301.50 L371.01 301.50 L371.58 301.50 L372.16 301.50 L372.74 301.50 L373.32 301.50 L373.90 301.50 L374.47 301.50 L375.05 301.50 L375.63 301.50 L376.21 301.50 L376.79 301.50 L377.36 301.50 L377.94 301.50 L378.52 301.50 L379.10 301.50 L379.68 301.50 L380.25 301.50 L380.83 301.50 L381.41 301.50 L381.99 301.50 L382.56 301.50 L383.14 301.50 L383.72 301.50 L384.30 301.50 L384.88 301.50 L385.45 301.50 L386.03 301.50 L386.61 301.50 L387.19 301.50 L387.77 301.50 L388.34 301.50 L388.92 301.50 L389.50 301.50 L390.08 301.50 L390.65 301.50 L391.23 301.50 L391.81 301.50 L392.39 301.50 L392.97 301.50 L393.54 301.50 L394.12 301.50 L394.70 301.50 L395.28 301.50 L395.86 301.50 L396.43 301.50 L397.01 301.50 L397.59 301.50 L398.17 301.50 L398.75 301.50 L399.32 301.50 L399.90 301.50 L400.48 301.50 L401.06 301.50 L401.63 301.50 L402.21 301.50 L402.79 301.50 L403.37 301.50 L403.95 301.50 L404.52 301.50 L405.10 301.50 L405.68 301.50 L406.26 301.50 L406.84 301.50 L407.41 301.50 L407.99 301.50 L408.57 301.50 L409.15 301.50 L409.73 301.50 L410.30 301.50 L410.88 301.50 L411.46 301.50 L412.04 301.50 L412.61 301.50 L413.19 301.50 L413.77 301.50 L414.35 301.50 L414.93 301.50 L415.50 301.50 L416.08 301.50 L416.66 301.50 L417.24 301.50" stroke="#0000ff" stroke-width="1.6"/>
<path d="M244.45 295.50 L245.03 295.50 L245.61 295.50 L246.18 295.51 L246.76 295.51 L247.34 295.52 L247.92 295.52 L248.50 295.53 L249.07 295.54 L249.65 295.55 L250.23 295.56 L250.81 295.58 L251.38 295.59 L251.96 295.61 L252.54 295.62 L253.12 295.64 L253.70 295.66 L254.27 295.68 L254.85 295.70 L255.43 295.73 L256.01 295.75 L256.59 295.78 L257.16 295.80 L257.74 295.83 L258.32 295.86 L258.90 295.89 L259.48 295.92 L260.05 295.96 L260.63 295.99 L261.21 296.03 L261.79 296.06 L262.36 296.10 L262.94 296.14 L263.52 296.18 L264.10 296.22 L264.68 296.26 L265.25 296.31 L265.83 296.35 L266.41 296.40 L266.99 296.45 L267.57 296.50 L268.14 296.55 L268.72 296.60 L269.30 296.65 L269.88 296.70 L270.45 296.76 L271.03 296.82 L271.61 296.87 L272.19 296.93 L272.77 296.99 L273.34 297.05 L273.92 297.12 L274.50 297.18 L275.08 297.24 L275.66 297.31 L276.23 297.38 L276.81 297.44 L277.39 297.51 L277.97 297.58 L278.55 297.66 L279.12 297.73 L279.70 297.80 L280.28 297.88 L280.86 297.95 L281.43 298.03 L282.01 298.11 L282.59 298.19 L283.17 298.27 L283.75 298.35 L284.32 298.44 L284.90 298.52 L285.48 298.61 L286.06 298.69 L286.64 298.78 L287.21 298.87 L287.79 298.96 L288.37 299.05 L288.95 299.14 L289.53 299.24 L290.10 299.33 L290.68 299.43 L291.26 299.52 L291.84 299.62 L292.41 299.72 L292.99 299.82 L293.57 299.92 L294.15 300.02 L294.73 300.13 L295.30 300.23 L295.88 300.34 L296.46 300.44 L297.04 300.55 L297.62 300.66 L298.19 300.77 L298.77 300.88 L299.35 300.99 L299.93 301.11 L300.50 301.22 L301.08 301.33 L301.66 301.45 L302.24 301.50" stroke="#0000ff" stroke-width="2" stroke-linecap="butt"/>
<path d="M244.45 295.50 L245.03 295.50" stroke="#0000ff" stroke-width="2"/>
<path d="M244.45 301.50 L245.03 301.50 L245.61 301.50 L246.18 301.49 L246.76 301.49 L247.34 301.49 L247.92 301.48 L248.50 301.47 L249.07 301.46 L249.65 301.45 L250.23 301.44 L250.81 301.43 L251.38 301.42 L251.96 301.40 L252.54 301.39 L253.12 301.37 L253.70 301.35 L254.27 301.33 L254.85 301.31 L255.43 301.29 L256.01 301.27 L256.59 301.25 L257.16 301.22 L257.74 301.20 L258.32 301.17 L258.90 301.14 L259.48 301.12 L260.05 301.09 L260.63 301.06 L261.21 301.03 L261.79 300.99 L262.36 300.96 L262.94 300.93 L263.52 300.89 L264.10 300.85 L264.68 300.82 L265.25 300.78 L265.83 300.74 L266.41 300.70 L266.99 300.66 L267.57 300.62 L268.14 300.58 L268.72 300.53 L269.30 300.49 L269.88 300.44 L270.45 300.40 L271.03 300.35 L271.61 300.30 L272.19 300.26 L272.77 300.21 L273.34 300.16 L273.92 300.11 L274.50 300.06 L275.08 300.01 L275.66 299.96 L276.23 299.90 L276.81 299.85 L277.39 299.80 L277.97 299.74 L278.55 299.69 L279.12 299.63 L279.70 299.58 L280.28 299.52 L280.86 299.47 L281.43 299.41 L282.01 299.35 L282.59 299.29 L283.17 299.24 L283.75 299.18 L284.32 299.12 L284.90 299.06 L285.48 299.00 L286.06 298.94 L286.64 298.88 L287.21 298.82 L287.79 298.76 L288.37 298.70 L288.95 298.64 L289.53 298.58 L290.10 298.52 L290.68 298.46 L291.26 298.40 L291.84 298.34 L292.41 298.27 L292.99 298.21 L293.57 298.15 L294.15 298.09 L294.73 298.03 L295.30 297.97 L295.88 297.91 L296.46 297.85 L297.04 297.79 L297.62 297.73 L298.19 297.67 L298.77 297.61 L299.35 297.55 L299.93 297.49 L300.50 297.43 L301.08 297.37 L301.66 297.31 L302.24 297.25 L302.82 297.20 L303.39 297.14 L303.97 297.08 L304.55 297.03 L305.13 296.97 L305.71 296.91 L306.28 296.86 L306.86 296.80 L307.44 296.75 L308.02 296.70 L308.60 296.64 L309.17 296.59 L309.75 296.54 L310.33 296.49 L310.91 296.44 L311.48 296.39 L312.06 296.34 L312.64 296.29 L313.22 296.24 L313.80 296.19 L314.37 296.15 L314.95 296.10 L315.53 296.06 L316.11 296.01 L316.69 295.97 L317.26 295.93 L317.84 295.88 L318.42 295.84 L319.00 295.80 L319.58 295.76 L320.15 295.73 L320.73 295.69 L321.31 295.65 L321.89 295.62 L322.46 295.58 L323.04 295.55 L323.62 295.52 L324.20 295.49 L324.78 295.46 L325.35 295.43 L325.93 295.40 L326.51 295.37 L327.09 295.35 L327.67 295.32 L328.24 295.30 L328.82 295.28 L329.40 295.26 L329.98 295.24 L330.55 295.22 L331.13 295.20 L331.71 295.18 L332.29 295.17 L332.87 295.15 L333.44 295.14 L334.02 295.13 L334.60 295.12 L335.18 295.11 L335.76 295.10 L336.33 295.10 L336.91 295.09 L337.49 295.09 L338.07 295.09 L338.65 295.09 L339.22 295.09 L339.80 295.09 L340.38 295.09 L340.96 295.10 L341.53 295.10 L342.11 295.11 L342.69 295.12 L343.27 295.13 L343.85 295.14 L344.42 295.16 L345.00 295.17 L345.58 295.19 L346.16 295.20 L346.74 295.22 L347.31 295.24 L347.89 295.26 L348.47 295.29 L349.05 295.31 L349.63 295.34 L350.20 295.37 L350.78 295.40 L351.36 295.43 L351.94 295.46 L352.51 295.49 L353.09 295.53 L353.67 295.56 L354.25 295.60 L354.83 295.64 L355.40 295.68 L355.98 295.73 L356.56 295.77 L357.14 295.82 L357.72 295.86 L358.29 295.91 L358.87 295.96 L359.45 296.01 L360.03 296.07 L360.60 296.12 L361.18 296.18 L361.76 296.23 L362.34 296.29 L362.92 296.35 L363.49 296.41 L364.07 296.48 L364.65 296.54 L365.23 296.61 L365.81 296.67 L366.38 296.74 L366.96 296.81 L367.54 296.88 L368.12 296.96 L368.70 297.03 L369.27 297.11 L369.85 297.18 L370.43 297.26 L371.01 297.34 L371.58 297.42 L372.16 297.50 L372.74 297.59 L373.32 297.67 L373.90 297.76 L374.47 297.85 L375.05 297.93 L375.63 298.02 L376.21 298.11 L376.79 298.20 L377.36 298.30 L377.94 298.39 L378.52 298.49 L379.10 298.58 L379.68 298.68 L380.25 298.78 L380.83 298.87 L381.41 298.97 L381.99 299.08 L382.56 299.18 L383.14 299.28 L383.72 299.38 L384.30 299.49 L384.88 299.59 L385.45 299.69 L386.03 299.80 L386.61 299.91 L387.19 300.01 L387.77 300.12 L388.34 300.23 L388.92 300.34 L389.50 300.44 L390.08 300.55 L390.65 300.66 L391.23 300.77 L391.81 300.88 L392.39 300.99 L392.97 301.10 L393.54 301.21 L394.12 301.32 L394.70 301.43 L395.28 301.50 L395.86 301.50 L396.43 301.50 L397.01 301.50 L397.59 301.50 L398.17 301.50 L398.75 301.50 L399.32 301.50 L399.90 301.50 L400.48 301.50 L401.06 301.50 L401.63 301.50 L402.21 301.50 L402.79 301.50 L403.37 301.50 L403.95 301.50 L404.52 301.50 L405.10 301.50 L405.68 301.50 L406.26 301.50 L406.84 301.50 L407.41 301.50 L407.99 301.50 L408.57 301.50 L409.15 301.50 L409.73 301.50 L410.30 301.50 L410.88 301.50 L411.46 301.50 L412.04 301.50 L412.61 301.50 L413.19 301.50 L413.77 301.50 L414.35 301.50 L414.93 301.50 L415.50 301.50 L416.08 301.50 L416.66 301.50 L417.24 301.50" stroke="#ff0000" stroke-width="4" stroke-dasharray="18.4 17.4"/>
<path d="M244.45 211.50 L245.03 211.50 L245.61 211.51 L246.18 211.52 L246.76 211.53 L247.34 211.55 L247.92 211.57 L248.50 211.59 L249.07 211.62 L249.65 211.66 L250.23 211.69 L250.81 211.73 L251.38 211.78 L251.96 211.82 L252.54 211.88 L253.12 211.93 L253.70 211.99 L254.27 212.06 L254.85 212.12 L255.43 212.19 L256.01 212.27 L256.59 212.35 L257.16 212.43 L257.74 212.52 L258.32 212.61 L258.90 212.70 L259.48 212.80 L260.05 212.90 L260.63 213.00 L261.21 213.11 L261.79 213.22 L262.36 213.34 L262.94 213.46 L263.52 213.59 L264.10 213.71 L264.68 213.84 L265.25 213.98 L265.83 214.12 L266.41 214.26 L266.99 214.41 L267.57 214.56 L268.14 214.71 L268.72 214.87 L269.30 215.03 L269.88 215.19 L270.45 215.36 L271.03 215.53 L271.61 215.71 L272.19 215.89 L272.77 216.07 L273.34 216.26 L273.92 216.45 L274.50 216.64 L275.08 216.84 L275.66 217.04 L276.23 217.24 L276.81 217.45 L277.39 217.66 L277.97 217.87 L278.55 218.09 L279.12 218.31 L279.70 218.54 L280.28 218.77 L280.86 219.00 L281.43 219.24 L282.01 219.47 L282.59 219.72 L283.17 219.96 L283.75 220.21 L284.32 220.46 L284.90 220.72 L285.48 220.98 L286.06 221.24 L286.64 221.51 L287.21 221.78 L287.79 222.05 L288.37 222.32 L288.95 222.60 L289.53 222.88 L290.10 223.17 L290.68 223.46 L291.26 223.75 L291.84 224.05 L292.41 224.34 L292.99 224.64 L293.57 224.95 L294.15 225.26 L294.73 225.57 L295.30 225.88 L295.88 226.20 L296.46 226.52 L297.04 226.84 L297.62 227.16 L298.19 227.49 L298.77 227.82 L299.35 228.16 L299.93 228.50 L300.50 228.84 L301.08 229.18 L301.66 229.53 L302.24 229.87 L302.82 230.23 L303.39 230.58 L303.97 230.94 L304.55 231.30 L305.13 231.66 L305.71 232.03 L306.28 232.39 L306.86 232.76 L307.44 233.14 L308.02 233.51 L308.60 233.89 L309.17 234.27 L309.75 234.66 L310.33 235.04 L310.91 235.43 L311.48 235.82 L312.06 236.22 L312.64 236.61 L313.22 237.01 L313.80 237.41 L314.37 237.82 L314.95 238.22 L315.53 238.63 L316.11 239.04 L316.69 239.46 L317.26 239.87 L317.84 240.29 L318.42 240.71 L319.00 241.13 L319.58 241.55 L320.15 241.98 L320.73 242.41 L321.31 242.84 L321.89 243.27 L322.46 243.70 L323.04 244.14 L323.62 244.58 L324.20 245.02 L324.78 245.46 L325.35 245.90 L325.93 246.35 L326.51 246.79 L327.09 247.24 L327.67 247.69 L328.24 248.15 L328.82 248.60 L329.40 249.06 L329.98 249.51 L330.55 249.97 L331.13 250.43 L331.71 250.90 L332.29 251.36 L332.87 251.82 L333.44 252.29 L334.02 252.76 L334.60 253.23 L335.18 253.70 L335.76 254.17 L336.33 254.64 L336.91 255.12 L337.49 255.59 L338.07 256.07 L338.65 256.55 L339.22 257.03 L339.80 257.51 L340.38 257.99 L340.96 258.47 L341.53 258.96 L342.11 259.44 L342.69 259.92 L343.27 260.41 L343.85 260.90 L344.42 261.38 L345.00 261.87 L345.58 262.36 L346.16 262.85 L346.74 263.34 L347.31 263.83 L347.89 264.32 L348.47 264.81 L349.05 265.30 L349.63 265.80 L350.20 266.29 L350.78 266.78 L351.36 267.28 L351.94 267.77 L352.51 268.26 L353.09 268.76 L353.67 269.25 L354.25 269.74 L354.83 270.24 L355.40 270.73 L355.98 271.22 L356.56 271.71 L357.14 272.21 L357.72 272.70 L358.29 273.19 L358.87 273.68 L359.45 274.17 L360.03 274.66 L360.60 275.15 L361.18 275.64 L361.76 276.13 L362.34 276.62 L362.92 277.10 L363.49 277.59 L364.07 278.07 L364.65 278.56 L365.23 279.04 L365.81 279.52 L366.38 280.00 L366.96 280.48 L367.54 280.95 L368.12 281.43 L368.70 281.90 L369.27 282.37 L369.85 282.84 L370.43 283.31 L371.01 283.78 L371.58 284.24 L372.16 284.70 L372.74 285.16 L373.32 285.62 L373.90 286.07 L374.47 286.52 L375.05 286.97 L375.63 287.42 L376.21 287.86 L376.79 288.30 L377.36 288.74 L377.94 289.17 L378.52 289.60 L379.10 290.03 L379.68 290.45 L380.25 290.87 L380.83 291.29 L381.41 291.70 L381.99 292.11 L382.56 292.51 L383.14 292.91 L383.72 293.31 L384.30 293.70 L384.88 294.08 L385.45 294.46 L386.03 294.83 L386.61 295.20 L387.19 295.57 L387.77 295.92 L388.34 296.28 L388.92 296.62 L389.50 296.96 L390.08 297.30 L390.65 297.63 L391.23 297.95 L391.81 298.26 L392.39 298.57 L392.97 298.87 L393.54 299.16 L394.12 299.45 L394.70 299.73 L395.28 300.00 L395.86 300.27 L396.43 300.52 L397.01 300.77 L397.59 301.01 L398.17 301.25 L398.75 301.47 L399.32 301.50 L399.90 301.50 L400.48 301.50 L401.06 301.50 L401.63 301.50 L402.21 301.50 L402.79 301.50 L403.37 301.50 L403.95 301.50 L404.52 301.50 L405.10 301.50 L405.68 301.50 L406.26 301.50 L406.84 301.50 L407.41 301.50 L407.99 301.50 L408.57 301.50 L409.15 301.50 L409.73 301.50 L410.30 301.50 L410.88 301.50 L411.46 301.50 L412.04 301.50 L412.61 301.50 L413.19 301.50 L413.77 301.50 L414.35 301.50 L414.93 301.50 L415.50 301.50 L416.08 301.50 L416.66 301.50 L417.24 301.50" stroke="#00ff00" stroke-width="4" stroke-dasharray="6.1 5.32"/>
<path d="M244.45 301.50 L245.03 301.50 L245.61 301.50 L246.18 301.50 L246.76 301.50 L247.34 301.50 L247.92 301.50 L248.50 301.50 L249.07 301.50 L249.65 301.50 L250.23 301.50 L250.81 301.50 L251.38 301.50 L251.96 301.50 L252.54 301.50 L253.12 301.50 L253.70 301.50 L254.27 301.50 L254.85 301.50 L255.43 301.50 L256.01 301.50 L256.59 301.50 L257.16 301.50 L257.74 301.50 L258.32 301.50 L258.90 301.50 L259.48 301.50 L260.05 301.50 L260.63 301.50 L261.21 301.50 L261.79 301.50 L262.36 301.50 L262.94 301.50 L263.52 301.50 L264.10 301.50 L264.68 301.50 L265.25 301.50 L265.83 301.50 L266.41 301.50 L266.99 301.50 L267.57 301.50 L268.14 301.50 L268.72 301.50 L269.30 301.50 L269.88 301.50 L270.45 301.50 L271.03 301.50 L271.61 301.50 L272.19 301.50 L272.77 301.50 L273.34 301.50 L273.92 301.50 L274.50 301.50 L275.08 301.50 L275.66 301.50 L276.23 301.50 L276.81 301.50 L277.39 301.50 L277.97 301.50 L278.55 301.50 L279.12 301.50 L279.70 301.50 L280.28 301.50 L280.86 301.50 L281.43 301.50 L282.01 301.50 L282.59 301.50 L283.17 301.50 L283.75 301.50 L284.32 301.50 L284.90 301.50 L285.48 301.50 L286.06 301.50 L286.64 301.50 L287.21 301.50 L287.79 301.50 L288.37 301.50 L288.95 301.50 L289.53 301.50 L290.10 301.50 L290.68 301.50 L291.26 301.50 L291.84 301.50 L292.41 301.50 L292.99 301.50 L293.57 301.50 L294.15 301.50 L294.73 301.50 L295.30 301.50 L295.88 301.50 L296.46 301.50 L297.04 301.50 L297.62 301.50 L298.19 301.50 L298.77 301.50 L299.35 301.50 L299.93 301.50 L300.50 301.50 L301.08 301.50 L301.66 301.50 L302.24 301.50 L302.82 301.50 L303.39 301.50 L303.97 301.50 L304.55 301.50 L305.13 301.50 L305.71 301.50 L306.28 301.50 L306.86 301.50 L307.44 301.50 L308.02 301.50 L308.60 301.50 L309.17 301.50 L309.75 301.50 L310.33 301.50 L310.91 301.50 L311.48 301.50 L312.06 301.50 L312.64 301.50 L313.22 301.50 L313.80 301.50 L314.37 301.50 L314.95 301.50 L315.53 301.50 L316.11 301.50 L316.69 301.50 L317.26 301.50 L317.84 301.50 L318.42 301.50 L319.00 301.50 L319.58 301.50 L320.15 301.50 L320.73 301.50 L321.31 301.50 L321.89 301.50 L322.46 301.50 L323.04 301.50 L323.62 301.50 L324.20 301.50 L324.78 301.50 L325.35 301.50 L325.93 301.50 L326.51 301.50 L327.09 301.50 L327.67 301.50 L328.24 301.50 L328.82 301.50 L329.40 301.50 L329.98 301.50 L330.55 301.50 L331.13 301.50 L331.71 301.50 L332.29 301.50 L332.87 301.50 L333.44 301.50 L334.02 301.50 L334.60 301.50 L335.18 301.50 L335.76 301.50 L336.33 301.50 L336.91 301.50 L337.49 301.50 L338.07 301.50 L338.65 301.50 L339.22 301.50 L339.80 301.50 L340.38 301.50 L340.96 301.50 L341.53 301.50 L342.11 301.50 L342.69 301.50 L343.27 301.50 L343.85 301.50 L344.42 301.50 L345.00 301.50 L345.58 301.50 L346.16 301.50 L346.74 301.50 L347.31 301.50 L347.89 301.50 L348.47 301.50 L349.05 301.50 L349.63 301.50 L350.20 301.50 L350.78 301.50 L351.36 301.50 L351.94 301.50 L352.51 301.50 L353.09 301.50 L353.67 301.50 L354.25 301.50 L354.83 301.50 L355.40 301.50 L355.98 301.50 L356.56 301.50 L357.14 301.50 L357.72 301.50 L358.29 301.50 L358.87 301.50 L359.45 301.50 L360.03 301.50 L360.60 301.50 L361.18 301.50 L361.76 301.50 L362.34 301.50 L362.92 301.50 L363.49 301.50 L364.07 301.50 L364.65 301.50 L365.23 301.50 L365.81 301.50 L366.38 301.50 L366.96 301.50 L367.54 301.50 L368.12 301.50 L368.70 301.50 L369.27 301.50 L369.85 301.50 L370.43 301.50 L371.01 301.50 L371.58 301.50 L372.16 301.50 L372.74 301.50 L373.32 301.50 L373.90 301.50 L374.47 301.50 L375.05 301.50 L375.63 301.50 L376.21 301.50 L376.79 301.50 L377.36 301.50 L377.94 301.50 L378.52 301.50 L379.10 301.50 L379.68 301.50 L380.25 301.50 L380.83 301.50 L381.41 301.50 L381.99 301.50 L382.56 301.50 L383.14 301.50 L383.72 301.50 L384.30 301.50 L384.88 301.50 L385.45 301.50 L386.03 301.50 L386.61 301.50 L387.19 301.50 L387.77 301.50 L388.34 301.50 L388.92 301.50 L389.50 301.50 L390.08 301.50 L390.65 301.50 L391.23 301.50 L391.81 301.50 L392.39 301.50 L392.97 301.50 L393.54 301.50 L394.12 301.50 L394.70 301.50 L395.28 301.50 L395.86 301.50 L396.43 301.50 L397.01 301.50 L397.59 301.50 L398.17 301.50 L398.75 301.50 L399.32 301.50 L399.90 301.50 L400.48 301.50 L401.06 301.50 L401.63 301.50 L402.21 301.50 L402.79 301.50 L403.37 301.50 L403.95 301.50 L404.52 301.50 L405.10 301.50 L405.68 301.50 L406.26 301.50 L406.84 301.50 L407.41 301.50 L407.99 301.50 L408.57 301.50 L409.15 301.50 L409.73 301.50 L410.30 301.50 L410.88 301.50 L411.46 301.50 L412.04 301.50 L412.61 301.50 L413.19 301.50 L413.77 301.50 L414.35 301.50 L414.93 301.50 L415.50 301.50 L416.08 301.50 L416.66 301.50 L417.24 301.50" stroke="#ff8000" stroke-width="2" stroke-dasharray="0.01 4.4 51.19 4.4"/>
</g>
<g stroke="#444" stroke-width="0.5" fill="none">
<path d="M244.45 199.70V310.90"/>
<path d="M244.45 301.50H420.45" stroke="#000" stroke-width="0.5" opacity="0.55"/>
<path d="M244.45 309.18h1.1M244.45 305.34h1.1M244.45 297.66h1.1M244.45 293.82h1.1M244.45 289.98h1.1M244.45 286.14h1.1M244.45 282.30h2.4M244.45 278.46h1.1M244.45 274.62h1.1M244.45 270.78h1.1M244.45 266.94h1.1M244.45 263.10h2.4M244.45 259.26h1.1M244.45 255.42h1.1M244.45 251.58h1.1M244.45 247.74h1.1M244.45 243.90h2.4M244.45 240.06h1.1M244.45 236.22h1.1M244.45 232.38h1.1M244.45 228.54h1.1M244.45 224.70h2.4M244.45 220.86h1.1M244.45 217.02h1.1M244.45 213.18h1.1M244.45 209.34h1.1M244.45 205.50h2.4M244.45 201.66h1.1" stroke-width="0.5"/>
<path d="M255.45 301.50v-1.3M266.45 301.50v-1.3M277.45 301.50v-1.3M288.45 301.50v-2.2M299.45 301.50v-1.3M310.45 301.50v-1.3M321.45 301.50v-1.3M332.45 301.50v-2.2M343.45 301.50v-1.3M354.45 301.50v-1.3M365.45 301.50v-1.3M376.45 301.50v-2.2M387.45 301.50v-1.3M398.45 301.50v-1.3M409.45 301.50v-1.3M420.45 301.50v-2.2" stroke-width="0.5" opacity="0.8"/>
</g>
<g style="text-rendering:geometricPrecision" filter="url(#nf)" stroke="#000" stroke-width="0.12">
<text x="241.65" y="285.90" font-size="10.5" text-anchor="end">0.1</text>
<text x="241.65" y="266.70" font-size="10.5" text-anchor="end">0.2</text>
<text x="241.65" y="247.50" font-size="10.5" text-anchor="end">0.3</text>
<text x="241.65" y="228.30" font-size="10.5" text-anchor="end">0.4</text>
<text x="241.65" y="209.10" font-size="10.5" text-anchor="end">0.5</text>
<text x="288.05" y="313.10" font-size="10.5" text-anchor="middle">0.2</text>
<text x="332.05" y="313.10" font-size="10.5" text-anchor="middle">0.4</text>
<text x="376.05" y="313.10" font-size="10.5" text-anchor="middle">0.6</text>
<text x="420.05" y="313.10" font-size="10.5" text-anchor="middle">0.8</text>
<text x="221.25" y="191.85" font-size="10.4" font-weight="bold">Negativity</text>
<text x="330.45" y="176.30" font-size="18.65" font-weight="bold" text-anchor="middle">qr = 0.25</text>
<text x="409.20" y="211.20" font-size="17" text-anchor="middle">(d)</text>
<path transform="translate(220.75 159.50)" fill="#000" d="M205.1 142.8C205.4 141 206.5 139.8 207.9 139.8C209.4 139.8 209.9 141.2 210.1 145L213 139.9L214.5 139.9L210 147.2C209.6 148.4 209 150.4 207.6 150.4C206.5 150.4 206.5 149 207.3 147.8L208.2 146.3C208.1 143.5 207.8 141.8 207 141.8C206.4 141.8 205.9 142.4 205.7 143.1Z"/>
</g>
</svg></body></html>
